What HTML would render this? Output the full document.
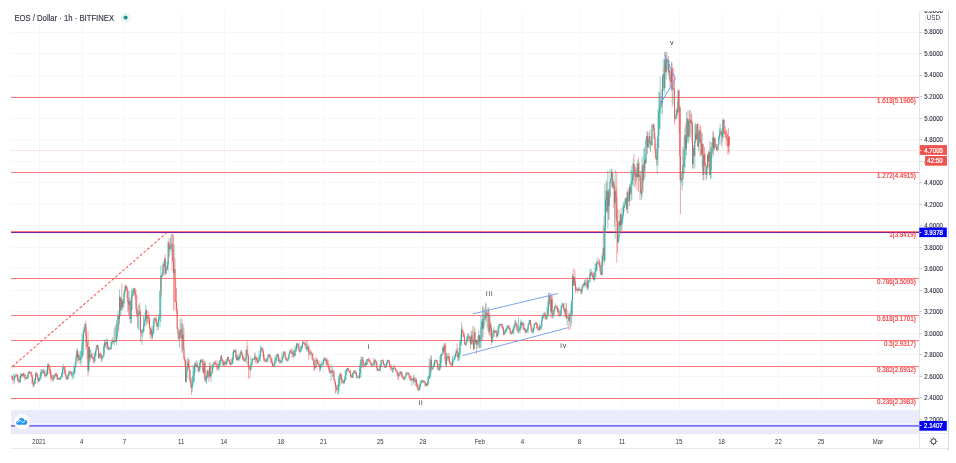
<!DOCTYPE html><html><head><meta charset="utf-8"><style>html,body{margin:0;padding:0;background:#fff;width:956px;height:463px;overflow:hidden}svg{display:block}text{font-family:"Liberation Sans",sans-serif}</style></head><body><svg width="956" height="463" viewBox="0 0 956 463"><path d="M39.5 11V436M82.5 11V436M124.5 11V436M181.5 11V436M224.5 11V436M281.5 11V436M323.5 11V436M380.5 11V436M423.5 11V436M480.5 11V436M522.5 11V436M579.5 11V436M622.5 11V436M679.5 11V436M722.5 11V436M778.5 11V436M821.5 11V436M878.5 11V436M11 32.5H919M11 53.5H919M11 75.5H919M11 96.5H919M11 118.5H919M11 139.5H919M11 161.5H919M11 182.5H919M11 204.5H919M11 225.5H919M11 247.5H919M11 268.5H919M11 290.5H919M11 311.5H919M11 333.5H919M11 354.5H919M11 376.5H919M11 397.5H919M11 419.5H919" stroke="#f6f7f9" stroke-width="1" fill="none"/><rect x="11" y="410.5" width="908" height="23" fill="#ebebfc"/><path d="M11 410.5H919" stroke="#dcf3f8" stroke-width="1"/><path d="M11 97.5H919M11 172.5H919M11 231.5H919M11 278.5H919M11 315.5H919M11 340.5H919M11 366.5H919M11 398.5H919" stroke="#f77" stroke-width="1" fill="none"/><path d="M11 232.5H919" stroke="#7a1fa8" stroke-width="1"/><path d="M11 423.6H919M11 428H919" stroke="#fff" stroke-opacity="0.55" stroke-width="1"/><path d="M11 425.8H919" stroke="#7b72f2" stroke-width="1.7"/><path d="M11 150.5H919" stroke="#f8c4c4" stroke-width="1" stroke-dasharray="1.2 1.6"/><path d="M12.3 366.6L166.6 232.8" stroke="#f55" stroke-width="1.05" stroke-dasharray="2.8 1.9"/><g fill="none"><path d="M11.5 374.9V376.8" stroke="#ef5350" stroke-width="0.5"/><path d="M11.5 376.4V377.2" stroke="#ef5350" stroke-width="0.9"/><path d="M12.2 376.0V379.7" stroke="#ef5350" stroke-width="0.5"/><path d="M12.2 376.4V379.2" stroke="#ef5350" stroke-width="0.9"/><path d="M13.0 375.2V384.6" stroke="#ef5350" stroke-width="0.5"/><path d="M13.0 379.2V380.1" stroke="#ef5350" stroke-width="0.9"/><path d="M13.8 372.8V380.4" stroke="#26a69a" stroke-width="0.5"/><path d="M13.8 379.5V380.3" stroke="#26a69a" stroke-width="0.9"/><path d="M14.5 375.6V383.4" stroke="#26a69a" stroke-width="0.5"/><path d="M14.5 376.8V379.5" stroke="#26a69a" stroke-width="0.9"/><path d="M15.2 374.3V377.7" stroke="#26a69a" stroke-width="0.5"/><path d="M15.2 376.1V376.9" stroke="#26a69a" stroke-width="0.9"/><path d="M16.0 373.3V377.2" stroke="#26a69a" stroke-width="0.5"/><path d="M16.0 375.1V376.1" stroke="#26a69a" stroke-width="0.9"/><path d="M16.8 373.9V376.5" stroke="#ef5350" stroke-width="0.5"/><path d="M16.8 375.1V375.9" stroke="#ef5350" stroke-width="0.9"/><path d="M17.5 374.3V381.4" stroke="#ef5350" stroke-width="0.5"/><path d="M17.5 375.8V378.6" stroke="#ef5350" stroke-width="0.9"/><path d="M18.2 374.8V381.4" stroke="#ef5350" stroke-width="0.5"/><path d="M18.2 378.6V381.0" stroke="#ef5350" stroke-width="0.9"/><path d="M19.0 380.7V384.3" stroke="#ef5350" stroke-width="0.5"/><path d="M19.0 381.0V382.0" stroke="#ef5350" stroke-width="0.9"/><path d="M19.8 376.1V382.9" stroke="#26a69a" stroke-width="0.5"/><path d="M19.8 379.2V382.0" stroke="#26a69a" stroke-width="0.9"/><path d="M20.5 373.3V382.3" stroke="#26a69a" stroke-width="0.5"/><path d="M20.5 376.0V379.2" stroke="#26a69a" stroke-width="0.9"/><path d="M21.2 373.9V377.9" stroke="#26a69a" stroke-width="0.5"/><path d="M21.2 374.2V376.0" stroke="#26a69a" stroke-width="0.9"/><path d="M22.0 373.3V377.7" stroke="#ef5350" stroke-width="0.5"/><path d="M22.0 374.2V375.9" stroke="#ef5350" stroke-width="0.9"/><path d="M22.8 373.2V376.3" stroke="#26a69a" stroke-width="0.5"/><path d="M22.8 373.7V375.9" stroke="#26a69a" stroke-width="0.9"/><path d="M23.5 372.7V377.2" stroke="#ef5350" stroke-width="0.5"/><path d="M23.5 373.7V374.5" stroke="#ef5350" stroke-width="0.9"/><path d="M24.2 373.0V377.5" stroke="#ef5350" stroke-width="0.5"/><path d="M24.2 374.5V375.3" stroke="#ef5350" stroke-width="0.9"/><path d="M25.0 373.9V380.9" stroke="#ef5350" stroke-width="0.5"/><path d="M25.0 374.8V378.3" stroke="#ef5350" stroke-width="0.9"/><path d="M25.8 377.7V378.9" stroke="#26a69a" stroke-width="0.5"/><path d="M25.8 378.3V379.1" stroke="#26a69a" stroke-width="0.9"/><path d="M26.5 377.0V379.2" stroke="#26a69a" stroke-width="0.5"/><path d="M26.5 377.3V378.3" stroke="#26a69a" stroke-width="0.9"/><path d="M27.2 375.0V379.1" stroke="#ef5350" stroke-width="0.5"/><path d="M27.2 377.3V378.1" stroke="#ef5350" stroke-width="0.9"/><path d="M28.0 372.2V379.8" stroke="#26a69a" stroke-width="0.5"/><path d="M28.0 374.1V377.6" stroke="#26a69a" stroke-width="0.9"/><path d="M28.8 371.2V374.5" stroke="#26a69a" stroke-width="0.5"/><path d="M28.8 371.6V374.1" stroke="#26a69a" stroke-width="0.9"/><path d="M29.5 371.2V373.2" stroke="#ef5350" stroke-width="0.5"/><path d="M29.5 371.6V372.4" stroke="#ef5350" stroke-width="0.9"/><path d="M30.2 371.9V373.8" stroke="#ef5350" stroke-width="0.5"/><path d="M30.2 372.3V373.1" stroke="#ef5350" stroke-width="0.9"/><path d="M31.0 371.7V376.3" stroke="#ef5350" stroke-width="0.5"/><path d="M31.0 372.8V374.8" stroke="#ef5350" stroke-width="0.9"/><path d="M31.8 371.2V384.5" stroke="#ef5350" stroke-width="0.5"/><path d="M31.8 374.8V376.9" stroke="#ef5350" stroke-width="0.9"/><path d="M32.5 375.2V383.3" stroke="#ef5350" stroke-width="0.5"/><path d="M32.5 376.9V382.1" stroke="#ef5350" stroke-width="0.9"/><path d="M33.2 381.8V387.5" stroke="#ef5350" stroke-width="0.5"/><path d="M33.2 382.1V385.2" stroke="#ef5350" stroke-width="0.9"/><path d="M34.0 378.9V387.3" stroke="#26a69a" stroke-width="0.5"/><path d="M34.0 383.5V385.2" stroke="#26a69a" stroke-width="0.9"/><path d="M34.8 378.0V384.2" stroke="#26a69a" stroke-width="0.5"/><path d="M34.8 379.7V383.5" stroke="#26a69a" stroke-width="0.9"/><path d="M35.5 372.3V383.7" stroke="#26a69a" stroke-width="0.5"/><path d="M35.5 373.2V379.7" stroke="#26a69a" stroke-width="0.9"/><path d="M36.2 371.4V377.3" stroke="#ef5350" stroke-width="0.5"/><path d="M36.2 373.2V374.0" stroke="#ef5350" stroke-width="0.9"/><path d="M37.0 373.3V376.9" stroke="#ef5350" stroke-width="0.5"/><path d="M37.0 373.6V376.6" stroke="#ef5350" stroke-width="0.9"/><path d="M37.8 373.7V383.0" stroke="#ef5350" stroke-width="0.5"/><path d="M37.8 376.6V379.6" stroke="#ef5350" stroke-width="0.9"/><path d="M38.5 378.3V381.8" stroke="#ef5350" stroke-width="0.5"/><path d="M38.5 379.6V381.0" stroke="#ef5350" stroke-width="0.9"/><path d="M39.2 377.2V382.0" stroke="#26a69a" stroke-width="0.5"/><path d="M39.2 377.9V381.0" stroke="#26a69a" stroke-width="0.9"/><path d="M40.0 374.6V378.3" stroke="#26a69a" stroke-width="0.5"/><path d="M40.0 377.9V378.7" stroke="#26a69a" stroke-width="0.9"/><path d="M40.8 369.6V380.6" stroke="#26a69a" stroke-width="0.5"/><path d="M40.8 372.5V377.9" stroke="#26a69a" stroke-width="0.9"/><path d="M41.5 369.5V375.9" stroke="#26a69a" stroke-width="0.5"/><path d="M41.5 372.1V372.9" stroke="#26a69a" stroke-width="0.9"/><path d="M42.2 369.2V374.2" stroke="#26a69a" stroke-width="0.5"/><path d="M42.2 372.1V372.9" stroke="#26a69a" stroke-width="0.9"/><path d="M43.0 368.5V372.6" stroke="#26a69a" stroke-width="0.5"/><path d="M43.0 370.9V372.1" stroke="#26a69a" stroke-width="0.9"/><path d="M43.8 368.8V374.0" stroke="#ef5350" stroke-width="0.5"/><path d="M43.8 370.9V373.0" stroke="#ef5350" stroke-width="0.9"/><path d="M44.5 370.7V376.4" stroke="#ef5350" stroke-width="0.5"/><path d="M44.5 373.0V374.6" stroke="#ef5350" stroke-width="0.9"/><path d="M45.2 370.5V377.9" stroke="#ef5350" stroke-width="0.5"/><path d="M45.2 374.6V375.9" stroke="#ef5350" stroke-width="0.9"/><path d="M46.0 372.3V377.0" stroke="#26a69a" stroke-width="0.5"/><path d="M46.0 375.0V375.9" stroke="#26a69a" stroke-width="0.9"/><path d="M46.8 369.2V376.4" stroke="#26a69a" stroke-width="0.5"/><path d="M46.8 373.9V375.0" stroke="#26a69a" stroke-width="0.9"/><path d="M47.5 363.9V375.2" stroke="#26a69a" stroke-width="0.5"/><path d="M47.5 366.6V373.9" stroke="#26a69a" stroke-width="0.9"/><path d="M48.2 363.0V368.3" stroke="#26a69a" stroke-width="0.5"/><path d="M48.2 364.8V366.6" stroke="#26a69a" stroke-width="0.9"/><path d="M49.0 363.9V374.1" stroke="#ef5350" stroke-width="0.5"/><path d="M49.0 364.8V369.7" stroke="#ef5350" stroke-width="0.9"/><path d="M49.8 366.7V373.4" stroke="#ef5350" stroke-width="0.5"/><path d="M49.8 369.7V370.5" stroke="#ef5350" stroke-width="0.9"/><path d="M50.5 368.9V379.3" stroke="#ef5350" stroke-width="0.5"/><path d="M50.5 370.1V374.9" stroke="#ef5350" stroke-width="0.9"/><path d="M51.2 371.3V381.6" stroke="#ef5350" stroke-width="0.5"/><path d="M51.2 374.9V377.9" stroke="#ef5350" stroke-width="0.9"/><path d="M52.0 375.1V379.7" stroke="#ef5350" stroke-width="0.5"/><path d="M52.0 377.9V378.7" stroke="#ef5350" stroke-width="0.9"/><path d="M52.8 374.5V381.5" stroke="#ef5350" stroke-width="0.5"/><path d="M52.8 378.1V379.1" stroke="#ef5350" stroke-width="0.9"/><path d="M53.5 375.5V381.6" stroke="#26a69a" stroke-width="0.5"/><path d="M53.5 378.4V379.2" stroke="#26a69a" stroke-width="0.9"/><path d="M54.2 374.4V378.8" stroke="#26a69a" stroke-width="0.5"/><path d="M54.2 375.5V378.4" stroke="#26a69a" stroke-width="0.9"/><path d="M55.0 373.1V376.0" stroke="#ef5350" stroke-width="0.5"/><path d="M55.0 375.5V376.3" stroke="#ef5350" stroke-width="0.9"/><path d="M55.8 373.3V377.6" stroke="#26a69a" stroke-width="0.5"/><path d="M55.8 373.7V375.5" stroke="#26a69a" stroke-width="0.9"/><path d="M56.5 372.8V377.0" stroke="#ef5350" stroke-width="0.5"/><path d="M56.5 373.7V374.8" stroke="#ef5350" stroke-width="0.9"/><path d="M57.2 374.0V380.0" stroke="#ef5350" stroke-width="0.5"/><path d="M57.2 374.8V379.1" stroke="#ef5350" stroke-width="0.9"/><path d="M58.0 378.2V379.8" stroke="#26a69a" stroke-width="0.5"/><path d="M58.0 378.5V379.3" stroke="#26a69a" stroke-width="0.9"/><path d="M58.8 377.1V379.8" stroke="#ef5350" stroke-width="0.5"/><path d="M58.8 378.5V379.5" stroke="#ef5350" stroke-width="0.9"/><path d="M59.5 378.8V380.0" stroke="#26a69a" stroke-width="0.5"/><path d="M59.5 379.3V380.1" stroke="#26a69a" stroke-width="0.9"/><path d="M60.2 376.6V379.8" stroke="#26a69a" stroke-width="0.5"/><path d="M60.2 377.3V379.3" stroke="#26a69a" stroke-width="0.9"/><path d="M61.0 376.6V379.6" stroke="#26a69a" stroke-width="0.5"/><path d="M61.0 377.2V378.0" stroke="#26a69a" stroke-width="0.9"/><path d="M61.8 372.3V377.5" stroke="#26a69a" stroke-width="0.5"/><path d="M61.8 372.8V377.2" stroke="#26a69a" stroke-width="0.9"/><path d="M62.5 366.5V377.4" stroke="#26a69a" stroke-width="0.5"/><path d="M62.5 369.9V372.8" stroke="#26a69a" stroke-width="0.9"/><path d="M63.2 364.0V374.2" stroke="#26a69a" stroke-width="0.5"/><path d="M63.2 367.3V369.9" stroke="#26a69a" stroke-width="0.9"/><path d="M64.0 366.6V367.8" stroke="#ef5350" stroke-width="0.5"/><path d="M64.0 367.3V368.1" stroke="#ef5350" stroke-width="0.9"/><path d="M64.8 366.9V374.3" stroke="#ef5350" stroke-width="0.5"/><path d="M64.8 367.4V373.7" stroke="#ef5350" stroke-width="0.9"/><path d="M65.5 369.4V376.7" stroke="#ef5350" stroke-width="0.5"/><path d="M65.5 373.7V375.4" stroke="#ef5350" stroke-width="0.9"/><path d="M66.2 374.2V379.2" stroke="#ef5350" stroke-width="0.5"/><path d="M66.2 375.4V378.8" stroke="#ef5350" stroke-width="0.9"/><path d="M67.0 378.3V379.7" stroke="#ef5350" stroke-width="0.5"/><path d="M67.0 378.8V379.6" stroke="#ef5350" stroke-width="0.9"/><path d="M67.8 374.1V379.7" stroke="#26a69a" stroke-width="0.5"/><path d="M67.8 376.1V379.2" stroke="#26a69a" stroke-width="0.9"/><path d="M68.5 372.7V378.8" stroke="#26a69a" stroke-width="0.5"/><path d="M68.5 374.4V376.1" stroke="#26a69a" stroke-width="0.9"/><path d="M69.2 369.8V376.0" stroke="#26a69a" stroke-width="0.5"/><path d="M69.2 371.5V374.4" stroke="#26a69a" stroke-width="0.9"/><path d="M70.0 371.2V373.8" stroke="#ef5350" stroke-width="0.5"/><path d="M70.0 371.5V372.3" stroke="#ef5350" stroke-width="0.9"/><path d="M70.8 371.4V374.8" stroke="#ef5350" stroke-width="0.5"/><path d="M70.8 371.7V372.7" stroke="#ef5350" stroke-width="0.9"/><path d="M71.5 371.5V376.3" stroke="#ef5350" stroke-width="0.5"/><path d="M71.5 372.7V374.3" stroke="#ef5350" stroke-width="0.9"/><path d="M72.2 372.8V379.6" stroke="#26a69a" stroke-width="0.5"/><path d="M72.2 374.3V375.1" stroke="#26a69a" stroke-width="0.9"/><path d="M73.0 370.9V377.2" stroke="#26a69a" stroke-width="0.5"/><path d="M73.0 373.3V374.3" stroke="#26a69a" stroke-width="0.9"/><path d="M73.8 366.1V378.7" stroke="#26a69a" stroke-width="0.5"/><path d="M73.8 371.1V373.3" stroke="#26a69a" stroke-width="0.9"/><path d="M74.5 367.2V375.0" stroke="#26a69a" stroke-width="0.5"/><path d="M74.5 367.8V371.1" stroke="#26a69a" stroke-width="0.9"/><path d="M75.2 362.5V373.0" stroke="#26a69a" stroke-width="0.5"/><path d="M75.2 364.0V367.8" stroke="#26a69a" stroke-width="0.9"/><path d="M76.0 354.9V365.7" stroke="#26a69a" stroke-width="0.5"/><path d="M76.0 357.1V364.0" stroke="#26a69a" stroke-width="0.9"/><path d="M76.8 348.7V359.4" stroke="#26a69a" stroke-width="0.5"/><path d="M76.8 351.2V357.1" stroke="#26a69a" stroke-width="0.9"/><path d="M77.5 348.7V361.7" stroke="#ef5350" stroke-width="0.5"/><path d="M77.5 351.2V357.2" stroke="#ef5350" stroke-width="0.9"/><path d="M78.2 353.1V360.5" stroke="#26a69a" stroke-width="0.5"/><path d="M78.2 354.8V357.2" stroke="#26a69a" stroke-width="0.9"/><path d="M79.0 351.1V363.7" stroke="#ef5350" stroke-width="0.5"/><path d="M79.0 354.8V359.9" stroke="#ef5350" stroke-width="0.9"/><path d="M79.8 356.3V360.6" stroke="#26a69a" stroke-width="0.5"/><path d="M79.8 358.7V359.9" stroke="#26a69a" stroke-width="0.9"/><path d="M80.5 351.0V363.5" stroke="#26a69a" stroke-width="0.5"/><path d="M80.5 358.7V359.5" stroke="#26a69a" stroke-width="0.9"/><path d="M81.2 350.6V365.8" stroke="#26a69a" stroke-width="0.5"/><path d="M81.2 357.1V358.7" stroke="#26a69a" stroke-width="0.9"/><path d="M82.0 332.0V359.3" stroke="#26a69a" stroke-width="0.5"/><path d="M82.0 344.8V357.1" stroke="#26a69a" stroke-width="0.9"/><path d="M82.8 334.8V356.5" stroke="#26a69a" stroke-width="0.5"/><path d="M82.8 341.8V344.8" stroke="#26a69a" stroke-width="0.9"/><path d="M83.5 329.7V354.8" stroke="#26a69a" stroke-width="0.5"/><path d="M83.5 332.5V341.8" stroke="#26a69a" stroke-width="0.9"/><path d="M84.2 327.0V333.1" stroke="#26a69a" stroke-width="0.5"/><path d="M84.2 327.3V332.5" stroke="#26a69a" stroke-width="0.9"/><path d="M85.0 323.1V329.7" stroke="#26a69a" stroke-width="0.5"/><path d="M85.0 324.3V327.3" stroke="#26a69a" stroke-width="0.9"/><path d="M85.8 320.5V349.6" stroke="#ef5350" stroke-width="0.5"/><path d="M85.8 324.3V336.1" stroke="#ef5350" stroke-width="0.9"/><path d="M86.5 327.4V346.9" stroke="#ef5350" stroke-width="0.5"/><path d="M86.5 336.1V342.7" stroke="#ef5350" stroke-width="0.9"/><path d="M87.2 340.7V359.2" stroke="#ef5350" stroke-width="0.5"/><path d="M87.2 342.7V347.0" stroke="#ef5350" stroke-width="0.9"/><path d="M88.0 331.1V376.5" stroke="#ef5350" stroke-width="0.5"/><path d="M88.0 347.0V370.6" stroke="#ef5350" stroke-width="0.9"/><path d="M88.8 340.9V372.9" stroke="#26a69a" stroke-width="0.5"/><path d="M88.8 347.2V370.6" stroke="#26a69a" stroke-width="0.9"/><path d="M89.5 346.9V361.3" stroke="#ef5350" stroke-width="0.5"/><path d="M89.5 347.2V357.8" stroke="#ef5350" stroke-width="0.9"/><path d="M90.2 349.6V361.7" stroke="#26a69a" stroke-width="0.5"/><path d="M90.2 355.2V357.8" stroke="#26a69a" stroke-width="0.9"/><path d="M91.0 349.2V358.1" stroke="#26a69a" stroke-width="0.5"/><path d="M91.0 354.1V355.2" stroke="#26a69a" stroke-width="0.9"/><path d="M91.8 353.0V357.9" stroke="#ef5350" stroke-width="0.5"/><path d="M91.8 354.1V357.6" stroke="#ef5350" stroke-width="0.9"/><path d="M92.5 356.6V359.1" stroke="#ef5350" stroke-width="0.5"/><path d="M92.5 357.6V358.4" stroke="#ef5350" stroke-width="0.9"/><path d="M93.2 356.6V363.4" stroke="#ef5350" stroke-width="0.5"/><path d="M93.2 358.1V358.9" stroke="#ef5350" stroke-width="0.9"/><path d="M94.0 353.1V363.3" stroke="#ef5350" stroke-width="0.5"/><path d="M94.0 358.4V361.2" stroke="#ef5350" stroke-width="0.9"/><path d="M94.8 352.2V363.3" stroke="#26a69a" stroke-width="0.5"/><path d="M94.8 354.3V361.2" stroke="#26a69a" stroke-width="0.9"/><path d="M95.5 350.7V356.8" stroke="#26a69a" stroke-width="0.5"/><path d="M95.5 351.3V354.3" stroke="#26a69a" stroke-width="0.9"/><path d="M96.2 345.1V355.9" stroke="#26a69a" stroke-width="0.5"/><path d="M96.2 348.2V351.3" stroke="#26a69a" stroke-width="0.9"/><path d="M97.0 344.7V348.9" stroke="#26a69a" stroke-width="0.5"/><path d="M97.0 345.0V348.2" stroke="#26a69a" stroke-width="0.9"/><path d="M97.8 344.7V350.4" stroke="#ef5350" stroke-width="0.5"/><path d="M97.8 345.0V347.7" stroke="#ef5350" stroke-width="0.9"/><path d="M98.5 347.1V358.7" stroke="#ef5350" stroke-width="0.5"/><path d="M98.5 347.7V357.9" stroke="#ef5350" stroke-width="0.9"/><path d="M99.2 353.0V358.6" stroke="#26a69a" stroke-width="0.5"/><path d="M99.2 353.4V357.9" stroke="#26a69a" stroke-width="0.9"/><path d="M100.0 351.5V356.6" stroke="#ef5350" stroke-width="0.5"/><path d="M100.0 353.4V354.7" stroke="#ef5350" stroke-width="0.9"/><path d="M100.8 352.8V358.1" stroke="#ef5350" stroke-width="0.5"/><path d="M100.8 354.7V357.7" stroke="#ef5350" stroke-width="0.9"/><path d="M101.5 353.6V362.3" stroke="#ef5350" stroke-width="0.5"/><path d="M101.5 357.7V359.0" stroke="#ef5350" stroke-width="0.9"/><path d="M102.2 355.0V360.8" stroke="#26a69a" stroke-width="0.5"/><path d="M102.2 356.2V359.0" stroke="#26a69a" stroke-width="0.9"/><path d="M103.0 355.4V356.6" stroke="#26a69a" stroke-width="0.5"/><path d="M103.0 355.7V356.5" stroke="#26a69a" stroke-width="0.9"/><path d="M103.8 344.1V358.0" stroke="#26a69a" stroke-width="0.5"/><path d="M103.8 346.6V355.7" stroke="#26a69a" stroke-width="0.9"/><path d="M104.5 339.7V353.6" stroke="#26a69a" stroke-width="0.5"/><path d="M104.5 342.7V346.6" stroke="#26a69a" stroke-width="0.9"/><path d="M105.2 341.9V347.7" stroke="#ef5350" stroke-width="0.5"/><path d="M105.2 342.7V344.6" stroke="#ef5350" stroke-width="0.9"/><path d="M106.0 338.9V347.0" stroke="#26a69a" stroke-width="0.5"/><path d="M106.0 343.8V344.6" stroke="#26a69a" stroke-width="0.9"/><path d="M106.8 338.4V349.1" stroke="#26a69a" stroke-width="0.5"/><path d="M106.8 342.1V343.8" stroke="#26a69a" stroke-width="0.9"/><path d="M107.5 339.7V349.3" stroke="#ef5350" stroke-width="0.5"/><path d="M107.5 342.1V346.6" stroke="#ef5350" stroke-width="0.9"/><path d="M108.2 344.8V350.4" stroke="#ef5350" stroke-width="0.5"/><path d="M108.2 346.6V349.3" stroke="#ef5350" stroke-width="0.9"/><path d="M109.0 347.4V350.3" stroke="#26a69a" stroke-width="0.5"/><path d="M109.0 348.8V349.6" stroke="#26a69a" stroke-width="0.9"/><path d="M109.8 346.7V349.4" stroke="#26a69a" stroke-width="0.5"/><path d="M109.8 348.0V348.8" stroke="#26a69a" stroke-width="0.9"/><path d="M110.5 347.7V349.5" stroke="#ef5350" stroke-width="0.5"/><path d="M110.5 348.0V348.8" stroke="#ef5350" stroke-width="0.9"/><path d="M111.2 341.9V350.1" stroke="#26a69a" stroke-width="0.5"/><path d="M111.2 342.6V348.3" stroke="#26a69a" stroke-width="0.9"/><path d="M112.0 339.5V345.3" stroke="#26a69a" stroke-width="0.5"/><path d="M112.0 341.0V342.6" stroke="#26a69a" stroke-width="0.9"/><path d="M112.8 336.7V344.0" stroke="#ef5350" stroke-width="0.5"/><path d="M112.8 341.0V341.8" stroke="#ef5350" stroke-width="0.9"/><path d="M113.5 339.9V342.6" stroke="#26a69a" stroke-width="0.5"/><path d="M113.5 341.1V341.9" stroke="#26a69a" stroke-width="0.9"/><path d="M114.2 328.7V345.8" stroke="#26a69a" stroke-width="0.5"/><path d="M114.2 340.7V341.5" stroke="#26a69a" stroke-width="0.9"/><path d="M115.0 326.4V342.6" stroke="#ef5350" stroke-width="0.5"/><path d="M115.0 340.7V341.5" stroke="#ef5350" stroke-width="0.9"/><path d="M115.8 324.2V342.7" stroke="#26a69a" stroke-width="0.5"/><path d="M115.8 340.9V341.7" stroke="#26a69a" stroke-width="0.9"/><path d="M116.5 319.5V345.3" stroke="#26a69a" stroke-width="0.5"/><path d="M116.5 336.8V340.9" stroke="#26a69a" stroke-width="0.9"/><path d="M117.2 323.2V338.8" stroke="#26a69a" stroke-width="0.5"/><path d="M117.2 327.7V336.8" stroke="#26a69a" stroke-width="0.9"/><path d="M118.0 310.8V329.7" stroke="#26a69a" stroke-width="0.5"/><path d="M118.0 315.7V327.7" stroke="#26a69a" stroke-width="0.9"/><path d="M118.8 314.3V332.3" stroke="#ef5350" stroke-width="0.5"/><path d="M118.8 315.7V319.2" stroke="#ef5350" stroke-width="0.9"/><path d="M119.5 289.4V324.6" stroke="#26a69a" stroke-width="0.5"/><path d="M119.5 297.0V319.2" stroke="#26a69a" stroke-width="0.9"/><path d="M120.2 296.6V315.5" stroke="#ef5350" stroke-width="0.5"/><path d="M120.2 297.0V310.6" stroke="#ef5350" stroke-width="0.9"/><path d="M121.0 296.9V316.3" stroke="#26a69a" stroke-width="0.5"/><path d="M121.0 298.9V310.6" stroke="#26a69a" stroke-width="0.9"/><path d="M121.8 283.5V308.7" stroke="#ef5350" stroke-width="0.5"/><path d="M121.8 298.9V307.2" stroke="#ef5350" stroke-width="0.9"/><path d="M122.5 299.2V310.3" stroke="#26a69a" stroke-width="0.5"/><path d="M122.5 302.1V307.2" stroke="#26a69a" stroke-width="0.9"/><path d="M123.2 299.7V308.4" stroke="#ef5350" stroke-width="0.5"/><path d="M123.2 302.1V303.4" stroke="#ef5350" stroke-width="0.9"/><path d="M124.0 290.6V306.6" stroke="#26a69a" stroke-width="0.5"/><path d="M124.0 293.3V303.4" stroke="#26a69a" stroke-width="0.9"/><path d="M124.8 285.9V297.3" stroke="#26a69a" stroke-width="0.5"/><path d="M124.8 290.3V293.3" stroke="#26a69a" stroke-width="0.9"/><path d="M125.5 284.4V291.2" stroke="#26a69a" stroke-width="0.5"/><path d="M125.5 286.0V290.3" stroke="#26a69a" stroke-width="0.9"/><path d="M126.2 285.6V290.2" stroke="#ef5350" stroke-width="0.5"/><path d="M126.2 286.0V288.1" stroke="#ef5350" stroke-width="0.9"/><path d="M127.0 285.7V298.3" stroke="#ef5350" stroke-width="0.5"/><path d="M127.0 288.1V290.8" stroke="#ef5350" stroke-width="0.9"/><path d="M127.8 287.2V311.9" stroke="#ef5350" stroke-width="0.5"/><path d="M127.8 290.8V302.2" stroke="#ef5350" stroke-width="0.9"/><path d="M128.5 298.0V315.9" stroke="#ef5350" stroke-width="0.5"/><path d="M128.5 302.2V304.8" stroke="#ef5350" stroke-width="0.9"/><path d="M129.2 291.1V310.2" stroke="#26a69a" stroke-width="0.5"/><path d="M129.2 301.0V304.8" stroke="#26a69a" stroke-width="0.9"/><path d="M130.0 297.3V323.3" stroke="#ef5350" stroke-width="0.5"/><path d="M130.0 301.0V319.0" stroke="#ef5350" stroke-width="0.9"/><path d="M130.8 300.4V323.3" stroke="#26a69a" stroke-width="0.5"/><path d="M130.8 310.6V319.0" stroke="#26a69a" stroke-width="0.9"/><path d="M131.5 289.6V323.3" stroke="#26a69a" stroke-width="0.5"/><path d="M131.5 297.4V310.6" stroke="#26a69a" stroke-width="0.9"/><path d="M132.2 287.9V309.8" stroke="#26a69a" stroke-width="0.5"/><path d="M132.2 294.4V297.4" stroke="#26a69a" stroke-width="0.9"/><path d="M133.0 290.5V295.7" stroke="#26a69a" stroke-width="0.5"/><path d="M133.0 291.5V294.4" stroke="#26a69a" stroke-width="0.9"/><path d="M133.8 287.9V295.7" stroke="#26a69a" stroke-width="0.5"/><path d="M133.8 288.5V291.5" stroke="#26a69a" stroke-width="0.9"/><path d="M134.5 287.9V293.8" stroke="#ef5350" stroke-width="0.5"/><path d="M134.5 288.5V291.1" stroke="#ef5350" stroke-width="0.9"/><path d="M135.2 287.9V299.2" stroke="#ef5350" stroke-width="0.5"/><path d="M135.2 291.1V295.7" stroke="#ef5350" stroke-width="0.9"/><path d="M136.0 289.8V311.4" stroke="#ef5350" stroke-width="0.5"/><path d="M136.0 295.7V308.2" stroke="#ef5350" stroke-width="0.9"/><path d="M136.8 294.2V317.6" stroke="#ef5350" stroke-width="0.5"/><path d="M136.8 308.2V314.2" stroke="#ef5350" stroke-width="0.9"/><path d="M137.5 310.1V327.8" stroke="#ef5350" stroke-width="0.5"/><path d="M137.5 314.2V315.2" stroke="#ef5350" stroke-width="0.9"/><path d="M138.2 305.4V329.9" stroke="#26a69a" stroke-width="0.5"/><path d="M138.2 314.2V315.2" stroke="#26a69a" stroke-width="0.9"/><path d="M139.0 304.5V330.4" stroke="#26a69a" stroke-width="0.5"/><path d="M139.0 311.5V314.2" stroke="#26a69a" stroke-width="0.9"/><path d="M139.8 302.8V315.6" stroke="#ef5350" stroke-width="0.5"/><path d="M139.8 311.5V313.8" stroke="#ef5350" stroke-width="0.9"/><path d="M140.5 309.5V342.0" stroke="#ef5350" stroke-width="0.5"/><path d="M140.5 313.8V331.9" stroke="#ef5350" stroke-width="0.9"/><path d="M141.2 330.2V336.5" stroke="#ef5350" stroke-width="0.5"/><path d="M141.2 331.9V332.7" stroke="#ef5350" stroke-width="0.9"/><path d="M142.0 329.0V345.0" stroke="#26a69a" stroke-width="0.5"/><path d="M142.0 330.9V332.7" stroke="#26a69a" stroke-width="0.9"/><path d="M142.8 328.8V336.7" stroke="#26a69a" stroke-width="0.5"/><path d="M142.8 329.2V330.9" stroke="#26a69a" stroke-width="0.9"/><path d="M143.5 316.2V332.8" stroke="#26a69a" stroke-width="0.5"/><path d="M143.5 326.2V329.2" stroke="#26a69a" stroke-width="0.9"/><path d="M144.2 317.3V331.5" stroke="#26a69a" stroke-width="0.5"/><path d="M144.2 322.7V326.2" stroke="#26a69a" stroke-width="0.9"/><path d="M145.0 312.7V326.3" stroke="#26a69a" stroke-width="0.5"/><path d="M145.0 320.2V322.7" stroke="#26a69a" stroke-width="0.9"/><path d="M145.8 304.8V320.6" stroke="#26a69a" stroke-width="0.5"/><path d="M145.8 310.1V320.2" stroke="#26a69a" stroke-width="0.9"/><path d="M146.5 309.5V325.5" stroke="#ef5350" stroke-width="0.5"/><path d="M146.5 310.1V318.4" stroke="#ef5350" stroke-width="0.9"/><path d="M147.2 315.6V322.3" stroke="#26a69a" stroke-width="0.5"/><path d="M147.2 316.0V318.4" stroke="#26a69a" stroke-width="0.9"/><path d="M148.0 310.7V324.2" stroke="#ef5350" stroke-width="0.5"/><path d="M148.0 316.0V318.0" stroke="#ef5350" stroke-width="0.9"/><path d="M148.8 313.7V323.0" stroke="#ef5350" stroke-width="0.5"/><path d="M148.8 318.0V319.4" stroke="#ef5350" stroke-width="0.9"/><path d="M149.5 316.7V328.9" stroke="#ef5350" stroke-width="0.5"/><path d="M149.5 319.4V328.4" stroke="#ef5350" stroke-width="0.9"/><path d="M150.2 327.0V339.3" stroke="#ef5350" stroke-width="0.5"/><path d="M150.2 328.4V334.5" stroke="#ef5350" stroke-width="0.9"/><path d="M151.0 328.2V334.8" stroke="#26a69a" stroke-width="0.5"/><path d="M151.0 329.6V334.5" stroke="#26a69a" stroke-width="0.9"/><path d="M151.8 326.0V339.3" stroke="#ef5350" stroke-width="0.5"/><path d="M151.8 329.6V336.7" stroke="#ef5350" stroke-width="0.9"/><path d="M152.5 331.9V339.3" stroke="#26a69a" stroke-width="0.5"/><path d="M152.5 334.0V336.7" stroke="#26a69a" stroke-width="0.9"/><path d="M153.2 320.7V334.5" stroke="#26a69a" stroke-width="0.5"/><path d="M153.2 326.8V334.0" stroke="#26a69a" stroke-width="0.9"/><path d="M154.0 317.7V332.9" stroke="#26a69a" stroke-width="0.5"/><path d="M154.0 318.8V326.8" stroke="#26a69a" stroke-width="0.9"/><path d="M154.8 317.7V320.6" stroke="#26a69a" stroke-width="0.5"/><path d="M154.8 318.0V318.8" stroke="#26a69a" stroke-width="0.9"/><path d="M155.5 317.7V321.4" stroke="#ef5350" stroke-width="0.5"/><path d="M155.5 318.0V318.9" stroke="#ef5350" stroke-width="0.9"/><path d="M156.2 314.8V324.9" stroke="#ef5350" stroke-width="0.5"/><path d="M156.2 318.9V323.4" stroke="#ef5350" stroke-width="0.9"/><path d="M157.0 320.3V330.4" stroke="#ef5350" stroke-width="0.5"/><path d="M157.0 323.4V326.5" stroke="#ef5350" stroke-width="0.9"/><path d="M157.8 322.4V326.8" stroke="#26a69a" stroke-width="0.5"/><path d="M157.8 322.8V326.5" stroke="#26a69a" stroke-width="0.9"/><path d="M158.5 315.5V330.3" stroke="#26a69a" stroke-width="0.5"/><path d="M158.5 318.4V322.8" stroke="#26a69a" stroke-width="0.9"/><path d="M159.2 313.5V320.7" stroke="#26a69a" stroke-width="0.5"/><path d="M159.2 318.0V318.8" stroke="#26a69a" stroke-width="0.9"/><path d="M160.0 290.7V327.3" stroke="#26a69a" stroke-width="0.5"/><path d="M160.0 291.0V318.0" stroke="#26a69a" stroke-width="0.9"/><path d="M160.8 265.4V322.0" stroke="#26a69a" stroke-width="0.5"/><path d="M160.8 275.7V291.0" stroke="#26a69a" stroke-width="0.9"/><path d="M161.5 275.0V296.6" stroke="#ef5350" stroke-width="0.5"/><path d="M161.5 275.7V276.5" stroke="#ef5350" stroke-width="0.9"/><path d="M162.2 272.2V278.6" stroke="#26a69a" stroke-width="0.5"/><path d="M162.2 273.8V276.1" stroke="#26a69a" stroke-width="0.9"/><path d="M163.0 261.2V274.4" stroke="#26a69a" stroke-width="0.5"/><path d="M163.0 264.6V273.8" stroke="#26a69a" stroke-width="0.9"/><path d="M163.8 264.3V276.0" stroke="#ef5350" stroke-width="0.5"/><path d="M163.8 264.6V266.1" stroke="#ef5350" stroke-width="0.9"/><path d="M164.5 257.6V266.4" stroke="#26a69a" stroke-width="0.5"/><path d="M164.5 258.7V266.1" stroke="#26a69a" stroke-width="0.9"/><path d="M165.2 254.1V274.9" stroke="#ef5350" stroke-width="0.5"/><path d="M165.2 258.7V273.7" stroke="#ef5350" stroke-width="0.9"/><path d="M166.0 261.8V274.9" stroke="#26a69a" stroke-width="0.5"/><path d="M166.0 267.2V273.7" stroke="#26a69a" stroke-width="0.9"/><path d="M166.8 266.9V270.6" stroke="#ef5350" stroke-width="0.5"/><path d="M166.8 267.2V268.0" stroke="#ef5350" stroke-width="0.9"/><path d="M167.5 261.1V270.3" stroke="#26a69a" stroke-width="0.5"/><path d="M167.5 264.8V267.9" stroke="#26a69a" stroke-width="0.9"/><path d="M168.2 240.7V270.9" stroke="#26a69a" stroke-width="0.5"/><path d="M168.2 242.5V264.8" stroke="#26a69a" stroke-width="0.9"/><path d="M169.0 238.4V257.6" stroke="#ef5350" stroke-width="0.5"/><path d="M169.0 242.5V249.2" stroke="#ef5350" stroke-width="0.9"/><path d="M169.8 245.5V255.7" stroke="#26a69a" stroke-width="0.5"/><path d="M169.8 247.1V249.2" stroke="#26a69a" stroke-width="0.9"/><path d="M170.5 237.7V249.2" stroke="#26a69a" stroke-width="0.5"/><path d="M170.5 246.3V247.1" stroke="#26a69a" stroke-width="0.9"/><path d="M171.2 233.6V251.6" stroke="#26a69a" stroke-width="0.5"/><path d="M171.2 243.9V246.3" stroke="#26a69a" stroke-width="0.9"/><path d="M172.0 233.9V270.7" stroke="#ef5350" stroke-width="0.5"/><path d="M172.0 243.9V248.9" stroke="#ef5350" stroke-width="0.9"/><path d="M172.8 233.9V262.5" stroke="#ef5350" stroke-width="0.5"/><path d="M172.8 248.9V260.8" stroke="#ef5350" stroke-width="0.9"/><path d="M173.5 235.2V310.3" stroke="#ef5350" stroke-width="0.5"/><path d="M173.5 260.8V273.2" stroke="#ef5350" stroke-width="0.9"/><path d="M174.2 244.5V278.4" stroke="#26a69a" stroke-width="0.5"/><path d="M174.2 269.1V273.2" stroke="#26a69a" stroke-width="0.9"/><path d="M175.0 257.7V310.8" stroke="#ef5350" stroke-width="0.5"/><path d="M175.0 269.1V301.5" stroke="#ef5350" stroke-width="0.9"/><path d="M175.8 279.4V302.3" stroke="#ef5350" stroke-width="0.5"/><path d="M175.8 301.5V302.3" stroke="#ef5350" stroke-width="0.9"/><path d="M176.5 287.9V313.6" stroke="#ef5350" stroke-width="0.5"/><path d="M176.5 301.7V309.8" stroke="#ef5350" stroke-width="0.9"/><path d="M177.2 308.1V329.2" stroke="#ef5350" stroke-width="0.5"/><path d="M177.2 309.8V328.9" stroke="#ef5350" stroke-width="0.9"/><path d="M178.0 327.5V338.7" stroke="#ef5350" stroke-width="0.5"/><path d="M178.0 328.9V333.5" stroke="#ef5350" stroke-width="0.9"/><path d="M178.8 331.4V340.3" stroke="#ef5350" stroke-width="0.5"/><path d="M178.8 333.5V338.8" stroke="#ef5350" stroke-width="0.9"/><path d="M179.5 330.3V347.8" stroke="#26a69a" stroke-width="0.5"/><path d="M179.5 337.8V338.8" stroke="#26a69a" stroke-width="0.9"/><path d="M180.2 318.1V338.4" stroke="#26a69a" stroke-width="0.5"/><path d="M180.2 329.7V337.8" stroke="#26a69a" stroke-width="0.9"/><path d="M181.0 323.4V333.7" stroke="#26a69a" stroke-width="0.5"/><path d="M181.0 329.4V330.2" stroke="#26a69a" stroke-width="0.9"/><path d="M181.8 318.7V351.5" stroke="#ef5350" stroke-width="0.5"/><path d="M181.8 329.4V339.4" stroke="#ef5350" stroke-width="0.9"/><path d="M182.5 323.0V353.4" stroke="#26a69a" stroke-width="0.5"/><path d="M182.5 334.9V339.4" stroke="#26a69a" stroke-width="0.9"/><path d="M183.2 324.7V349.9" stroke="#ef5350" stroke-width="0.5"/><path d="M183.2 334.9V348.5" stroke="#ef5350" stroke-width="0.9"/><path d="M184.0 327.7V360.7" stroke="#ef5350" stroke-width="0.5"/><path d="M184.0 348.5V358.6" stroke="#ef5350" stroke-width="0.9"/><path d="M184.8 356.6V365.8" stroke="#ef5350" stroke-width="0.5"/><path d="M184.8 358.6V360.6" stroke="#ef5350" stroke-width="0.9"/><path d="M185.5 359.6V382.3" stroke="#ef5350" stroke-width="0.5"/><path d="M185.5 360.6V382.0" stroke="#ef5350" stroke-width="0.9"/><path d="M186.2 367.5V382.3" stroke="#26a69a" stroke-width="0.5"/><path d="M186.2 372.2V382.0" stroke="#26a69a" stroke-width="0.9"/><path d="M187.0 359.5V378.0" stroke="#26a69a" stroke-width="0.5"/><path d="M187.0 366.6V372.2" stroke="#26a69a" stroke-width="0.9"/><path d="M187.8 357.2V369.6" stroke="#26a69a" stroke-width="0.5"/><path d="M187.8 362.5V366.6" stroke="#26a69a" stroke-width="0.9"/><path d="M188.5 359.0V367.8" stroke="#ef5350" stroke-width="0.5"/><path d="M188.5 362.5V366.2" stroke="#ef5350" stroke-width="0.9"/><path d="M189.2 359.2V380.6" stroke="#ef5350" stroke-width="0.5"/><path d="M189.2 366.2V369.9" stroke="#ef5350" stroke-width="0.9"/><path d="M190.0 369.1V382.8" stroke="#ef5350" stroke-width="0.5"/><path d="M190.0 369.9V378.4" stroke="#ef5350" stroke-width="0.9"/><path d="M190.8 376.9V388.1" stroke="#ef5350" stroke-width="0.5"/><path d="M190.8 378.4V385.1" stroke="#ef5350" stroke-width="0.9"/><path d="M191.5 384.4V395.0" stroke="#ef5350" stroke-width="0.5"/><path d="M191.5 385.1V388.1" stroke="#ef5350" stroke-width="0.9"/><path d="M192.2 377.4V392.3" stroke="#26a69a" stroke-width="0.5"/><path d="M192.2 380.8V388.1" stroke="#26a69a" stroke-width="0.9"/><path d="M193.0 365.5V386.0" stroke="#26a69a" stroke-width="0.5"/><path d="M193.0 375.9V380.8" stroke="#26a69a" stroke-width="0.9"/><path d="M193.8 366.6V383.4" stroke="#26a69a" stroke-width="0.5"/><path d="M193.8 371.6V375.9" stroke="#26a69a" stroke-width="0.9"/><path d="M194.5 362.7V381.9" stroke="#26a69a" stroke-width="0.5"/><path d="M194.5 365.8V371.6" stroke="#26a69a" stroke-width="0.9"/><path d="M195.2 361.4V372.7" stroke="#26a69a" stroke-width="0.5"/><path d="M195.2 364.1V365.8" stroke="#26a69a" stroke-width="0.9"/><path d="M196.0 361.6V366.2" stroke="#ef5350" stroke-width="0.5"/><path d="M196.0 364.1V365.9" stroke="#ef5350" stroke-width="0.9"/><path d="M196.8 360.3V367.7" stroke="#26a69a" stroke-width="0.5"/><path d="M196.8 365.0V365.9" stroke="#26a69a" stroke-width="0.9"/><path d="M197.5 362.3V367.8" stroke="#ef5350" stroke-width="0.5"/><path d="M197.5 365.0V366.8" stroke="#ef5350" stroke-width="0.9"/><path d="M198.2 366.0V371.7" stroke="#ef5350" stroke-width="0.5"/><path d="M198.2 366.8V371.2" stroke="#ef5350" stroke-width="0.9"/><path d="M199.0 367.5V371.9" stroke="#26a69a" stroke-width="0.5"/><path d="M199.0 369.4V371.2" stroke="#26a69a" stroke-width="0.9"/><path d="M199.8 360.4V372.6" stroke="#26a69a" stroke-width="0.5"/><path d="M199.8 362.7V369.4" stroke="#26a69a" stroke-width="0.9"/><path d="M200.5 359.7V367.3" stroke="#26a69a" stroke-width="0.5"/><path d="M200.5 360.2V362.7" stroke="#26a69a" stroke-width="0.9"/><path d="M201.2 358.9V363.4" stroke="#ef5350" stroke-width="0.5"/><path d="M201.2 360.2V361.3" stroke="#ef5350" stroke-width="0.9"/><path d="M202.0 359.2V362.7" stroke="#26a69a" stroke-width="0.5"/><path d="M202.0 360.8V361.6" stroke="#26a69a" stroke-width="0.9"/><path d="M202.8 358.5V373.2" stroke="#ef5350" stroke-width="0.5"/><path d="M202.8 360.8V371.0" stroke="#ef5350" stroke-width="0.9"/><path d="M203.5 364.6V373.5" stroke="#ef5350" stroke-width="0.5"/><path d="M203.5 371.0V372.8" stroke="#ef5350" stroke-width="0.9"/><path d="M204.2 359.5V377.7" stroke="#26a69a" stroke-width="0.5"/><path d="M204.2 362.7V372.8" stroke="#26a69a" stroke-width="0.9"/><path d="M205.0 360.8V381.3" stroke="#ef5350" stroke-width="0.5"/><path d="M205.0 362.7V380.6" stroke="#ef5350" stroke-width="0.9"/><path d="M205.8 376.2V383.1" stroke="#26a69a" stroke-width="0.5"/><path d="M205.8 379.9V380.7" stroke="#26a69a" stroke-width="0.9"/><path d="M206.5 374.6V383.6" stroke="#26a69a" stroke-width="0.5"/><path d="M206.5 377.4V379.9" stroke="#26a69a" stroke-width="0.9"/><path d="M207.2 369.8V378.0" stroke="#26a69a" stroke-width="0.5"/><path d="M207.2 370.8V377.4" stroke="#26a69a" stroke-width="0.9"/><path d="M208.0 368.7V378.9" stroke="#ef5350" stroke-width="0.5"/><path d="M208.0 370.8V375.0" stroke="#ef5350" stroke-width="0.9"/><path d="M208.8 371.1V381.8" stroke="#ef5350" stroke-width="0.5"/><path d="M208.8 375.0V376.4" stroke="#ef5350" stroke-width="0.9"/><path d="M209.5 363.4V376.8" stroke="#26a69a" stroke-width="0.5"/><path d="M209.5 366.8V376.4" stroke="#26a69a" stroke-width="0.9"/><path d="M210.2 362.1V378.6" stroke="#ef5350" stroke-width="0.5"/><path d="M210.2 366.8V376.4" stroke="#ef5350" stroke-width="0.9"/><path d="M211.0 372.8V382.3" stroke="#26a69a" stroke-width="0.5"/><path d="M211.0 373.2V376.4" stroke="#26a69a" stroke-width="0.9"/><path d="M211.8 365.5V375.0" stroke="#26a69a" stroke-width="0.5"/><path d="M211.8 371.3V373.2" stroke="#26a69a" stroke-width="0.9"/><path d="M212.5 364.2V372.9" stroke="#26a69a" stroke-width="0.5"/><path d="M212.5 365.9V371.3" stroke="#26a69a" stroke-width="0.9"/><path d="M213.2 363.9V368.6" stroke="#26a69a" stroke-width="0.5"/><path d="M213.2 364.7V365.9" stroke="#26a69a" stroke-width="0.9"/><path d="M214.0 361.4V366.5" stroke="#26a69a" stroke-width="0.5"/><path d="M214.0 362.2V364.7" stroke="#26a69a" stroke-width="0.9"/><path d="M214.8 361.3V363.9" stroke="#ef5350" stroke-width="0.5"/><path d="M214.8 362.2V363.1" stroke="#ef5350" stroke-width="0.9"/><path d="M215.5 360.4V365.4" stroke="#ef5350" stroke-width="0.5"/><path d="M215.5 363.1V363.9" stroke="#ef5350" stroke-width="0.9"/><path d="M216.2 363.3V365.1" stroke="#ef5350" stroke-width="0.5"/><path d="M216.2 363.6V364.5" stroke="#ef5350" stroke-width="0.9"/><path d="M217.0 360.2V370.4" stroke="#ef5350" stroke-width="0.5"/><path d="M217.0 364.5V367.9" stroke="#ef5350" stroke-width="0.9"/><path d="M217.8 364.7V370.9" stroke="#ef5350" stroke-width="0.5"/><path d="M217.8 367.9V368.7" stroke="#ef5350" stroke-width="0.9"/><path d="M218.5 363.2V368.8" stroke="#26a69a" stroke-width="0.5"/><path d="M218.5 367.1V368.3" stroke="#26a69a" stroke-width="0.9"/><path d="M219.2 360.1V370.5" stroke="#26a69a" stroke-width="0.5"/><path d="M219.2 365.5V367.1" stroke="#26a69a" stroke-width="0.9"/><path d="M220.0 360.0V366.7" stroke="#26a69a" stroke-width="0.5"/><path d="M220.0 361.0V365.5" stroke="#26a69a" stroke-width="0.9"/><path d="M220.8 355.3V363.8" stroke="#26a69a" stroke-width="0.5"/><path d="M220.8 356.3V361.0" stroke="#26a69a" stroke-width="0.9"/><path d="M221.5 355.0V360.9" stroke="#ef5350" stroke-width="0.5"/><path d="M221.5 356.3V358.7" stroke="#ef5350" stroke-width="0.9"/><path d="M222.2 358.4V362.4" stroke="#ef5350" stroke-width="0.5"/><path d="M222.2 358.7V361.3" stroke="#ef5350" stroke-width="0.9"/><path d="M223.0 360.1V365.7" stroke="#ef5350" stroke-width="0.5"/><path d="M223.0 361.3V365.3" stroke="#ef5350" stroke-width="0.9"/><path d="M223.8 361.5V365.6" stroke="#26a69a" stroke-width="0.5"/><path d="M223.8 361.9V365.3" stroke="#26a69a" stroke-width="0.9"/><path d="M224.5 361.6V365.5" stroke="#ef5350" stroke-width="0.5"/><path d="M224.5 361.9V362.9" stroke="#ef5350" stroke-width="0.9"/><path d="M225.2 361.3V365.3" stroke="#26a69a" stroke-width="0.5"/><path d="M225.2 362.0V362.9" stroke="#26a69a" stroke-width="0.9"/><path d="M226.0 359.1V366.2" stroke="#ef5350" stroke-width="0.5"/><path d="M226.0 362.0V364.0" stroke="#ef5350" stroke-width="0.9"/><path d="M226.8 358.9V365.3" stroke="#26a69a" stroke-width="0.5"/><path d="M226.8 361.0V364.0" stroke="#26a69a" stroke-width="0.9"/><path d="M227.5 356.7V361.3" stroke="#26a69a" stroke-width="0.5"/><path d="M227.5 357.0V361.0" stroke="#26a69a" stroke-width="0.9"/><path d="M228.2 356.7V361.0" stroke="#ef5350" stroke-width="0.5"/><path d="M228.2 357.0V360.3" stroke="#ef5350" stroke-width="0.9"/><path d="M229.0 359.9V361.7" stroke="#ef5350" stroke-width="0.5"/><path d="M229.0 360.3V361.1" stroke="#ef5350" stroke-width="0.9"/><path d="M229.8 358.5V364.7" stroke="#ef5350" stroke-width="0.5"/><path d="M229.8 360.8V364.2" stroke="#ef5350" stroke-width="0.9"/><path d="M230.5 361.4V365.6" stroke="#26a69a" stroke-width="0.5"/><path d="M230.5 362.9V364.2" stroke="#26a69a" stroke-width="0.9"/><path d="M231.2 358.8V365.4" stroke="#ef5350" stroke-width="0.5"/><path d="M231.2 362.9V363.7" stroke="#ef5350" stroke-width="0.9"/><path d="M232.0 358.2V364.8" stroke="#26a69a" stroke-width="0.5"/><path d="M232.0 362.9V363.7" stroke="#26a69a" stroke-width="0.9"/><path d="M232.8 352.1V364.1" stroke="#26a69a" stroke-width="0.5"/><path d="M232.8 356.8V362.9" stroke="#26a69a" stroke-width="0.9"/><path d="M233.5 349.4V359.6" stroke="#26a69a" stroke-width="0.5"/><path d="M233.5 350.9V356.8" stroke="#26a69a" stroke-width="0.9"/><path d="M234.2 349.9V352.4" stroke="#ef5350" stroke-width="0.5"/><path d="M234.2 350.9V352.1" stroke="#ef5350" stroke-width="0.9"/><path d="M235.0 348.9V352.5" stroke="#26a69a" stroke-width="0.5"/><path d="M235.0 350.4V352.1" stroke="#26a69a" stroke-width="0.9"/><path d="M235.8 348.8V358.8" stroke="#ef5350" stroke-width="0.5"/><path d="M235.8 350.4V357.0" stroke="#ef5350" stroke-width="0.9"/><path d="M236.5 354.0V360.6" stroke="#ef5350" stroke-width="0.5"/><path d="M236.5 357.0V359.7" stroke="#ef5350" stroke-width="0.9"/><path d="M237.2 354.6V360.2" stroke="#26a69a" stroke-width="0.5"/><path d="M237.2 357.0V359.7" stroke="#26a69a" stroke-width="0.9"/><path d="M238.0 354.8V361.1" stroke="#ef5350" stroke-width="0.5"/><path d="M238.0 357.0V360.1" stroke="#ef5350" stroke-width="0.9"/><path d="M238.8 354.6V361.4" stroke="#26a69a" stroke-width="0.5"/><path d="M238.8 357.3V360.1" stroke="#26a69a" stroke-width="0.9"/><path d="M239.5 356.3V359.4" stroke="#26a69a" stroke-width="0.5"/><path d="M239.5 357.1V357.9" stroke="#26a69a" stroke-width="0.9"/><path d="M240.2 350.9V358.7" stroke="#26a69a" stroke-width="0.5"/><path d="M240.2 352.8V357.1" stroke="#26a69a" stroke-width="0.9"/><path d="M241.0 349.5V354.0" stroke="#26a69a" stroke-width="0.5"/><path d="M241.0 352.1V352.9" stroke="#26a69a" stroke-width="0.9"/><path d="M241.8 350.4V355.6" stroke="#ef5350" stroke-width="0.5"/><path d="M241.8 352.1V355.1" stroke="#ef5350" stroke-width="0.9"/><path d="M242.5 353.2V360.0" stroke="#ef5350" stroke-width="0.5"/><path d="M242.5 355.1V357.6" stroke="#ef5350" stroke-width="0.9"/><path d="M243.2 356.3V360.2" stroke="#ef5350" stroke-width="0.5"/><path d="M243.2 357.6V358.4" stroke="#ef5350" stroke-width="0.9"/><path d="M244.0 355.4V362.1" stroke="#ef5350" stroke-width="0.5"/><path d="M244.0 358.1V360.9" stroke="#ef5350" stroke-width="0.9"/><path d="M244.8 357.4V362.0" stroke="#26a69a" stroke-width="0.5"/><path d="M244.8 360.0V360.9" stroke="#26a69a" stroke-width="0.9"/><path d="M245.5 359.0V360.9" stroke="#26a69a" stroke-width="0.5"/><path d="M245.5 359.4V360.2" stroke="#26a69a" stroke-width="0.9"/><path d="M246.2 349.5V364.1" stroke="#26a69a" stroke-width="0.5"/><path d="M246.2 349.9V359.4" stroke="#26a69a" stroke-width="0.9"/><path d="M247.0 340.4V354.8" stroke="#ef5350" stroke-width="0.5"/><path d="M247.0 349.9V353.7" stroke="#ef5350" stroke-width="0.9"/><path d="M247.8 345.5V365.9" stroke="#ef5350" stroke-width="0.5"/><path d="M247.8 353.7V356.1" stroke="#ef5350" stroke-width="0.9"/><path d="M248.5 354.9V378.7" stroke="#ef5350" stroke-width="0.5"/><path d="M248.5 356.1V365.8" stroke="#ef5350" stroke-width="0.9"/><path d="M249.2 365.5V368.8" stroke="#ef5350" stroke-width="0.5"/><path d="M249.2 365.8V368.1" stroke="#ef5350" stroke-width="0.9"/><path d="M250.0 367.7V378.2" stroke="#ef5350" stroke-width="0.5"/><path d="M250.0 368.1V370.2" stroke="#ef5350" stroke-width="0.9"/><path d="M250.8 356.7V370.6" stroke="#26a69a" stroke-width="0.5"/><path d="M250.8 364.4V370.2" stroke="#26a69a" stroke-width="0.9"/><path d="M251.5 362.8V367.2" stroke="#26a69a" stroke-width="0.5"/><path d="M251.5 364.0V364.8" stroke="#26a69a" stroke-width="0.9"/><path d="M252.2 358.1V364.7" stroke="#26a69a" stroke-width="0.5"/><path d="M252.2 358.9V364.0" stroke="#26a69a" stroke-width="0.9"/><path d="M253.0 358.5V360.9" stroke="#ef5350" stroke-width="0.5"/><path d="M253.0 358.9V359.7" stroke="#ef5350" stroke-width="0.9"/><path d="M253.8 358.2V359.5" stroke="#26a69a" stroke-width="0.5"/><path d="M253.8 358.8V359.6" stroke="#26a69a" stroke-width="0.9"/><path d="M254.5 353.4V359.3" stroke="#26a69a" stroke-width="0.5"/><path d="M254.5 357.1V358.8" stroke="#26a69a" stroke-width="0.9"/><path d="M255.2 352.3V363.6" stroke="#ef5350" stroke-width="0.5"/><path d="M255.2 357.1V359.4" stroke="#ef5350" stroke-width="0.9"/><path d="M256.0 355.4V362.4" stroke="#26a69a" stroke-width="0.5"/><path d="M256.0 357.5V359.4" stroke="#26a69a" stroke-width="0.9"/><path d="M256.8 357.1V364.0" stroke="#ef5350" stroke-width="0.5"/><path d="M256.8 357.5V360.2" stroke="#ef5350" stroke-width="0.9"/><path d="M257.5 358.4V363.1" stroke="#ef5350" stroke-width="0.5"/><path d="M257.5 360.2V362.4" stroke="#ef5350" stroke-width="0.9"/><path d="M258.2 360.2V363.2" stroke="#26a69a" stroke-width="0.5"/><path d="M258.2 361.6V362.4" stroke="#26a69a" stroke-width="0.9"/><path d="M259.0 351.0V362.0" stroke="#26a69a" stroke-width="0.5"/><path d="M259.0 357.1V361.6" stroke="#26a69a" stroke-width="0.9"/><path d="M259.8 355.0V359.4" stroke="#26a69a" stroke-width="0.5"/><path d="M259.8 355.9V357.1" stroke="#26a69a" stroke-width="0.9"/><path d="M260.5 346.0V361.0" stroke="#26a69a" stroke-width="0.5"/><path d="M260.5 349.4V355.9" stroke="#26a69a" stroke-width="0.9"/><path d="M261.2 346.0V352.5" stroke="#26a69a" stroke-width="0.5"/><path d="M261.2 348.2V349.4" stroke="#26a69a" stroke-width="0.9"/><path d="M262.0 347.9V352.4" stroke="#ef5350" stroke-width="0.5"/><path d="M262.0 348.2V349.0" stroke="#ef5350" stroke-width="0.9"/><path d="M262.8 348.3V356.5" stroke="#ef5350" stroke-width="0.5"/><path d="M262.8 348.6V351.4" stroke="#ef5350" stroke-width="0.9"/><path d="M263.5 350.5V360.4" stroke="#ef5350" stroke-width="0.5"/><path d="M263.5 351.4V357.5" stroke="#ef5350" stroke-width="0.9"/><path d="M264.2 354.0V361.7" stroke="#ef5350" stroke-width="0.5"/><path d="M264.2 357.5V360.5" stroke="#ef5350" stroke-width="0.9"/><path d="M265.0 358.9V361.9" stroke="#ef5350" stroke-width="0.5"/><path d="M265.0 360.5V361.3" stroke="#ef5350" stroke-width="0.9"/><path d="M265.8 358.8V362.1" stroke="#ef5350" stroke-width="0.5"/><path d="M265.8 361.0V361.8" stroke="#ef5350" stroke-width="0.9"/><path d="M266.5 358.6V362.3" stroke="#26a69a" stroke-width="0.5"/><path d="M266.5 359.7V361.1" stroke="#26a69a" stroke-width="0.9"/><path d="M267.2 358.0V362.6" stroke="#26a69a" stroke-width="0.5"/><path d="M267.2 358.9V359.7" stroke="#26a69a" stroke-width="0.9"/><path d="M268.0 354.0V362.2" stroke="#26a69a" stroke-width="0.5"/><path d="M268.0 355.5V358.9" stroke="#26a69a" stroke-width="0.9"/><path d="M268.8 353.3V356.6" stroke="#26a69a" stroke-width="0.5"/><path d="M268.8 355.4V356.2" stroke="#26a69a" stroke-width="0.9"/><path d="M269.5 353.9V357.3" stroke="#ef5350" stroke-width="0.5"/><path d="M269.5 355.4V356.2" stroke="#ef5350" stroke-width="0.9"/><path d="M270.2 354.4V362.3" stroke="#ef5350" stroke-width="0.5"/><path d="M270.2 355.5V358.3" stroke="#ef5350" stroke-width="0.9"/><path d="M271.0 358.0V363.6" stroke="#ef5350" stroke-width="0.5"/><path d="M271.0 358.3V359.1" stroke="#ef5350" stroke-width="0.9"/><path d="M271.8 357.0V364.7" stroke="#ef5350" stroke-width="0.5"/><path d="M271.8 359.1V362.5" stroke="#ef5350" stroke-width="0.9"/><path d="M272.5 361.9V366.7" stroke="#ef5350" stroke-width="0.5"/><path d="M272.5 362.5V366.2" stroke="#ef5350" stroke-width="0.9"/><path d="M273.2 365.7V366.9" stroke="#ef5350" stroke-width="0.5"/><path d="M273.2 366.2V367.1" stroke="#ef5350" stroke-width="0.9"/><path d="M274.0 362.1V367.1" stroke="#26a69a" stroke-width="0.5"/><path d="M274.0 364.1V366.4" stroke="#26a69a" stroke-width="0.9"/><path d="M274.8 356.4V367.1" stroke="#26a69a" stroke-width="0.5"/><path d="M274.8 360.8V364.1" stroke="#26a69a" stroke-width="0.9"/><path d="M275.5 358.3V361.4" stroke="#26a69a" stroke-width="0.5"/><path d="M275.5 359.4V360.8" stroke="#26a69a" stroke-width="0.9"/><path d="M276.2 354.8V363.5" stroke="#26a69a" stroke-width="0.5"/><path d="M276.2 357.2V359.4" stroke="#26a69a" stroke-width="0.9"/><path d="M277.0 353.7V361.3" stroke="#26a69a" stroke-width="0.5"/><path d="M277.0 354.0V357.2" stroke="#26a69a" stroke-width="0.9"/><path d="M277.8 353.7V357.2" stroke="#ef5350" stroke-width="0.5"/><path d="M277.8 354.0V355.7" stroke="#ef5350" stroke-width="0.9"/><path d="M278.5 355.1V361.5" stroke="#ef5350" stroke-width="0.5"/><path d="M278.5 355.7V360.8" stroke="#ef5350" stroke-width="0.9"/><path d="M279.2 358.3V363.1" stroke="#26a69a" stroke-width="0.5"/><path d="M279.2 360.3V361.1" stroke="#26a69a" stroke-width="0.9"/><path d="M280.0 357.6V363.9" stroke="#ef5350" stroke-width="0.5"/><path d="M280.0 360.3V362.6" stroke="#ef5350" stroke-width="0.9"/><path d="M280.8 359.9V363.6" stroke="#26a69a" stroke-width="0.5"/><path d="M280.8 361.6V362.6" stroke="#26a69a" stroke-width="0.9"/><path d="M281.5 360.6V362.1" stroke="#26a69a" stroke-width="0.5"/><path d="M281.5 360.9V361.7" stroke="#26a69a" stroke-width="0.9"/><path d="M282.2 352.6V363.2" stroke="#26a69a" stroke-width="0.5"/><path d="M282.2 356.5V360.9" stroke="#26a69a" stroke-width="0.9"/><path d="M283.0 354.8V359.1" stroke="#26a69a" stroke-width="0.5"/><path d="M283.0 355.7V356.5" stroke="#26a69a" stroke-width="0.9"/><path d="M283.8 350.8V358.0" stroke="#26a69a" stroke-width="0.5"/><path d="M283.8 352.2V355.7" stroke="#26a69a" stroke-width="0.9"/><path d="M284.5 351.4V353.9" stroke="#ef5350" stroke-width="0.5"/><path d="M284.5 352.2V353.1" stroke="#ef5350" stroke-width="0.9"/><path d="M285.2 351.1V360.4" stroke="#ef5350" stroke-width="0.5"/><path d="M285.2 353.0V357.0" stroke="#ef5350" stroke-width="0.9"/><path d="M286.0 356.6V359.7" stroke="#ef5350" stroke-width="0.5"/><path d="M286.0 357.0V359.2" stroke="#ef5350" stroke-width="0.9"/><path d="M286.8 358.3V361.2" stroke="#ef5350" stroke-width="0.5"/><path d="M286.8 359.2V360.6" stroke="#ef5350" stroke-width="0.9"/><path d="M287.5 359.0V361.1" stroke="#26a69a" stroke-width="0.5"/><path d="M287.5 360.4V361.2" stroke="#26a69a" stroke-width="0.9"/><path d="M288.2 356.1V360.9" stroke="#26a69a" stroke-width="0.5"/><path d="M288.2 358.1V360.4" stroke="#26a69a" stroke-width="0.9"/><path d="M289.0 353.3V358.7" stroke="#26a69a" stroke-width="0.5"/><path d="M289.0 353.9V358.1" stroke="#26a69a" stroke-width="0.9"/><path d="M289.8 349.5V354.3" stroke="#26a69a" stroke-width="0.5"/><path d="M289.8 351.5V353.9" stroke="#26a69a" stroke-width="0.9"/><path d="M290.5 349.7V352.6" stroke="#ef5350" stroke-width="0.5"/><path d="M290.5 351.5V352.3" stroke="#ef5350" stroke-width="0.9"/><path d="M291.2 348.3V352.4" stroke="#ef5350" stroke-width="0.5"/><path d="M291.2 351.6V352.4" stroke="#ef5350" stroke-width="0.9"/><path d="M292.0 350.2V357.1" stroke="#ef5350" stroke-width="0.5"/><path d="M292.0 351.8V354.0" stroke="#ef5350" stroke-width="0.9"/><path d="M292.8 348.5V357.2" stroke="#26a69a" stroke-width="0.5"/><path d="M292.8 353.0V354.0" stroke="#26a69a" stroke-width="0.9"/><path d="M293.5 350.5V357.9" stroke="#ef5350" stroke-width="0.5"/><path d="M293.5 353.0V354.0" stroke="#ef5350" stroke-width="0.9"/><path d="M294.2 350.8V357.5" stroke="#ef5350" stroke-width="0.5"/><path d="M294.2 354.0V355.8" stroke="#ef5350" stroke-width="0.9"/><path d="M295.0 346.0V356.3" stroke="#26a69a" stroke-width="0.5"/><path d="M295.0 350.4V355.8" stroke="#26a69a" stroke-width="0.9"/><path d="M295.8 346.5V352.3" stroke="#26a69a" stroke-width="0.5"/><path d="M295.8 348.9V350.4" stroke="#26a69a" stroke-width="0.9"/><path d="M296.5 342.9V351.4" stroke="#26a69a" stroke-width="0.5"/><path d="M296.5 344.5V348.9" stroke="#26a69a" stroke-width="0.9"/><path d="M297.2 342.5V347.7" stroke="#26a69a" stroke-width="0.5"/><path d="M297.2 344.3V345.1" stroke="#26a69a" stroke-width="0.9"/><path d="M298.0 343.1V348.3" stroke="#ef5350" stroke-width="0.5"/><path d="M298.0 344.3V345.1" stroke="#ef5350" stroke-width="0.9"/><path d="M298.8 343.0V350.9" stroke="#ef5350" stroke-width="0.5"/><path d="M298.8 344.7V350.3" stroke="#ef5350" stroke-width="0.9"/><path d="M299.5 349.9V353.3" stroke="#ef5350" stroke-width="0.5"/><path d="M299.5 350.3V351.3" stroke="#ef5350" stroke-width="0.9"/><path d="M300.2 347.3V352.6" stroke="#26a69a" stroke-width="0.5"/><path d="M300.2 350.8V351.6" stroke="#26a69a" stroke-width="0.9"/><path d="M301.0 345.0V351.8" stroke="#26a69a" stroke-width="0.5"/><path d="M301.0 346.8V350.8" stroke="#26a69a" stroke-width="0.9"/><path d="M301.8 345.2V350.1" stroke="#26a69a" stroke-width="0.5"/><path d="M301.8 346.7V347.5" stroke="#26a69a" stroke-width="0.9"/><path d="M302.5 341.6V348.0" stroke="#26a69a" stroke-width="0.5"/><path d="M302.5 342.4V346.7" stroke="#26a69a" stroke-width="0.9"/><path d="M303.2 341.0V344.1" stroke="#ef5350" stroke-width="0.5"/><path d="M303.2 342.4V343.2" stroke="#ef5350" stroke-width="0.9"/><path d="M304.0 341.5V344.8" stroke="#26a69a" stroke-width="0.5"/><path d="M304.0 342.6V343.4" stroke="#26a69a" stroke-width="0.9"/><path d="M304.8 341.7V345.9" stroke="#ef5350" stroke-width="0.5"/><path d="M304.8 342.6V344.6" stroke="#ef5350" stroke-width="0.9"/><path d="M305.5 344.1V346.6" stroke="#ef5350" stroke-width="0.5"/><path d="M305.5 344.6V345.6" stroke="#ef5350" stroke-width="0.9"/><path d="M306.2 340.4V349.8" stroke="#ef5350" stroke-width="0.5"/><path d="M306.2 345.6V349.2" stroke="#ef5350" stroke-width="0.9"/><path d="M307.0 340.3V351.8" stroke="#26a69a" stroke-width="0.5"/><path d="M307.0 347.5V349.2" stroke="#26a69a" stroke-width="0.9"/><path d="M307.8 343.6V351.3" stroke="#26a69a" stroke-width="0.5"/><path d="M307.8 347.5V348.3" stroke="#26a69a" stroke-width="0.9"/><path d="M308.5 345.3V359.6" stroke="#ef5350" stroke-width="0.5"/><path d="M308.5 347.5V351.5" stroke="#ef5350" stroke-width="0.9"/><path d="M309.2 345.7V354.4" stroke="#ef5350" stroke-width="0.5"/><path d="M309.2 351.5V352.8" stroke="#ef5350" stroke-width="0.9"/><path d="M310.0 349.4V356.7" stroke="#26a69a" stroke-width="0.5"/><path d="M310.0 352.7V353.5" stroke="#26a69a" stroke-width="0.9"/><path d="M310.8 350.0V354.8" stroke="#ef5350" stroke-width="0.5"/><path d="M310.8 352.7V353.7" stroke="#ef5350" stroke-width="0.9"/><path d="M311.5 351.4V354.3" stroke="#26a69a" stroke-width="0.5"/><path d="M311.5 353.4V354.2" stroke="#26a69a" stroke-width="0.9"/><path d="M312.2 352.8V359.7" stroke="#ef5350" stroke-width="0.5"/><path d="M312.2 353.4V359.2" stroke="#ef5350" stroke-width="0.9"/><path d="M313.0 353.3V361.0" stroke="#ef5350" stroke-width="0.5"/><path d="M313.0 359.2V360.6" stroke="#ef5350" stroke-width="0.9"/><path d="M313.8 358.8V370.1" stroke="#ef5350" stroke-width="0.5"/><path d="M313.8 360.6V365.0" stroke="#ef5350" stroke-width="0.9"/><path d="M314.5 358.3V371.0" stroke="#ef5350" stroke-width="0.5"/><path d="M314.5 365.0V367.5" stroke="#ef5350" stroke-width="0.9"/><path d="M315.2 365.5V368.0" stroke="#ef5350" stroke-width="0.5"/><path d="M315.2 367.5V368.3" stroke="#ef5350" stroke-width="0.9"/><path d="M316.0 356.9V368.7" stroke="#26a69a" stroke-width="0.5"/><path d="M316.0 359.9V367.6" stroke="#26a69a" stroke-width="0.9"/><path d="M316.8 358.0V362.1" stroke="#ef5350" stroke-width="0.5"/><path d="M316.8 359.9V361.0" stroke="#ef5350" stroke-width="0.9"/><path d="M317.5 359.0V364.4" stroke="#ef5350" stroke-width="0.5"/><path d="M317.5 361.0V363.1" stroke="#ef5350" stroke-width="0.9"/><path d="M318.2 361.8V367.0" stroke="#ef5350" stroke-width="0.5"/><path d="M318.2 363.1V364.3" stroke="#ef5350" stroke-width="0.9"/><path d="M319.0 360.1V366.0" stroke="#ef5350" stroke-width="0.5"/><path d="M319.0 364.3V365.1" stroke="#ef5350" stroke-width="0.9"/><path d="M319.8 364.2V371.9" stroke="#ef5350" stroke-width="0.5"/><path d="M319.8 365.0V368.7" stroke="#ef5350" stroke-width="0.9"/><path d="M320.5 363.8V370.6" stroke="#26a69a" stroke-width="0.5"/><path d="M320.5 365.7V368.7" stroke="#26a69a" stroke-width="0.9"/><path d="M321.2 360.7V367.1" stroke="#26a69a" stroke-width="0.5"/><path d="M321.2 365.0V365.8" stroke="#26a69a" stroke-width="0.9"/><path d="M322.0 363.5V367.5" stroke="#26a69a" stroke-width="0.5"/><path d="M322.0 363.8V365.0" stroke="#26a69a" stroke-width="0.9"/><path d="M322.8 361.1V364.2" stroke="#26a69a" stroke-width="0.5"/><path d="M322.8 363.1V363.9" stroke="#26a69a" stroke-width="0.9"/><path d="M323.5 358.3V365.5" stroke="#26a69a" stroke-width="0.5"/><path d="M323.5 360.9V363.1" stroke="#26a69a" stroke-width="0.9"/><path d="M324.2 356.6V361.9" stroke="#26a69a" stroke-width="0.5"/><path d="M324.2 358.8V360.9" stroke="#26a69a" stroke-width="0.9"/><path d="M325.0 357.9V360.1" stroke="#26a69a" stroke-width="0.5"/><path d="M325.0 358.6V359.4" stroke="#26a69a" stroke-width="0.9"/><path d="M325.8 357.7V365.0" stroke="#ef5350" stroke-width="0.5"/><path d="M325.8 358.6V361.1" stroke="#ef5350" stroke-width="0.9"/><path d="M326.5 359.6V365.5" stroke="#26a69a" stroke-width="0.5"/><path d="M326.5 360.4V361.2" stroke="#26a69a" stroke-width="0.9"/><path d="M327.2 357.8V365.3" stroke="#ef5350" stroke-width="0.5"/><path d="M327.2 360.4V364.2" stroke="#ef5350" stroke-width="0.9"/><path d="M328.0 362.7V367.8" stroke="#ef5350" stroke-width="0.5"/><path d="M328.0 364.2V365.9" stroke="#ef5350" stroke-width="0.9"/><path d="M328.8 359.6V371.3" stroke="#ef5350" stroke-width="0.5"/><path d="M328.8 365.9V369.7" stroke="#ef5350" stroke-width="0.9"/><path d="M329.5 366.3V373.1" stroke="#ef5350" stroke-width="0.5"/><path d="M329.5 369.7V371.4" stroke="#ef5350" stroke-width="0.9"/><path d="M330.2 370.0V373.6" stroke="#ef5350" stroke-width="0.5"/><path d="M330.2 371.4V372.9" stroke="#ef5350" stroke-width="0.9"/><path d="M331.0 364.2V381.2" stroke="#26a69a" stroke-width="0.5"/><path d="M331.0 371.1V372.9" stroke="#26a69a" stroke-width="0.9"/><path d="M331.8 369.5V372.6" stroke="#ef5350" stroke-width="0.5"/><path d="M331.8 371.1V372.2" stroke="#ef5350" stroke-width="0.9"/><path d="M332.5 367.1V377.0" stroke="#26a69a" stroke-width="0.5"/><path d="M332.5 371.4V372.2" stroke="#26a69a" stroke-width="0.9"/><path d="M333.2 369.8V376.7" stroke="#ef5350" stroke-width="0.5"/><path d="M333.2 371.4V373.1" stroke="#ef5350" stroke-width="0.9"/><path d="M334.0 370.0V380.5" stroke="#ef5350" stroke-width="0.5"/><path d="M334.0 373.1V380.1" stroke="#ef5350" stroke-width="0.9"/><path d="M334.8 379.0V384.5" stroke="#ef5350" stroke-width="0.5"/><path d="M334.8 380.1V382.7" stroke="#ef5350" stroke-width="0.9"/><path d="M335.5 381.6V393.5" stroke="#ef5350" stroke-width="0.5"/><path d="M335.5 382.7V386.5" stroke="#ef5350" stroke-width="0.9"/><path d="M336.2 384.8V392.4" stroke="#ef5350" stroke-width="0.5"/><path d="M336.2 386.5V389.2" stroke="#ef5350" stroke-width="0.9"/><path d="M337.0 384.6V390.6" stroke="#ef5350" stroke-width="0.5"/><path d="M337.0 389.2V390.0" stroke="#ef5350" stroke-width="0.9"/><path d="M337.8 385.0V395.0" stroke="#26a69a" stroke-width="0.5"/><path d="M337.8 388.2V389.3" stroke="#26a69a" stroke-width="0.9"/><path d="M338.5 375.5V394.0" stroke="#26a69a" stroke-width="0.5"/><path d="M338.5 384.7V388.2" stroke="#26a69a" stroke-width="0.9"/><path d="M339.2 376.9V391.4" stroke="#26a69a" stroke-width="0.5"/><path d="M339.2 379.7V384.7" stroke="#26a69a" stroke-width="0.9"/><path d="M340.0 372.7V385.8" stroke="#26a69a" stroke-width="0.5"/><path d="M340.0 374.0V379.7" stroke="#26a69a" stroke-width="0.9"/><path d="M340.8 372.7V378.2" stroke="#ef5350" stroke-width="0.5"/><path d="M340.8 374.0V376.1" stroke="#ef5350" stroke-width="0.9"/><path d="M341.5 374.4V383.8" stroke="#ef5350" stroke-width="0.5"/><path d="M341.5 376.1V379.9" stroke="#ef5350" stroke-width="0.9"/><path d="M342.2 379.6V382.6" stroke="#ef5350" stroke-width="0.5"/><path d="M342.2 379.9V380.8" stroke="#ef5350" stroke-width="0.9"/><path d="M343.0 378.2V384.3" stroke="#ef5350" stroke-width="0.5"/><path d="M343.0 380.8V382.7" stroke="#ef5350" stroke-width="0.9"/><path d="M343.8 380.3V383.5" stroke="#26a69a" stroke-width="0.5"/><path d="M343.8 382.2V383.1" stroke="#26a69a" stroke-width="0.9"/><path d="M344.5 378.3V383.5" stroke="#26a69a" stroke-width="0.5"/><path d="M344.5 379.6V382.2" stroke="#26a69a" stroke-width="0.9"/><path d="M345.2 369.4V381.3" stroke="#26a69a" stroke-width="0.5"/><path d="M345.2 375.9V379.6" stroke="#26a69a" stroke-width="0.9"/><path d="M346.0 370.1V380.2" stroke="#26a69a" stroke-width="0.5"/><path d="M346.0 371.5V375.9" stroke="#26a69a" stroke-width="0.9"/><path d="M346.8 368.3V374.0" stroke="#26a69a" stroke-width="0.5"/><path d="M346.8 368.9V371.5" stroke="#26a69a" stroke-width="0.9"/><path d="M347.5 367.7V369.6" stroke="#26a69a" stroke-width="0.5"/><path d="M347.5 368.0V368.9" stroke="#26a69a" stroke-width="0.9"/><path d="M348.2 367.7V371.6" stroke="#ef5350" stroke-width="0.5"/><path d="M348.2 368.0V370.9" stroke="#ef5350" stroke-width="0.9"/><path d="M349.0 370.1V372.6" stroke="#ef5350" stroke-width="0.5"/><path d="M349.0 370.9V371.7" stroke="#ef5350" stroke-width="0.9"/><path d="M349.8 371.1V373.2" stroke="#ef5350" stroke-width="0.5"/><path d="M349.8 371.4V372.9" stroke="#ef5350" stroke-width="0.9"/><path d="M350.5 369.0V377.9" stroke="#ef5350" stroke-width="0.5"/><path d="M350.5 372.9V376.0" stroke="#ef5350" stroke-width="0.9"/><path d="M351.2 374.5V376.5" stroke="#26a69a" stroke-width="0.5"/><path d="M351.2 375.8V376.6" stroke="#26a69a" stroke-width="0.9"/><path d="M352.0 374.0V378.3" stroke="#ef5350" stroke-width="0.5"/><path d="M352.0 375.8V377.6" stroke="#ef5350" stroke-width="0.9"/><path d="M352.8 372.5V378.0" stroke="#26a69a" stroke-width="0.5"/><path d="M352.8 373.1V377.6" stroke="#26a69a" stroke-width="0.9"/><path d="M353.5 372.0V374.3" stroke="#26a69a" stroke-width="0.5"/><path d="M353.5 372.4V373.2" stroke="#26a69a" stroke-width="0.9"/><path d="M354.2 370.1V374.0" stroke="#26a69a" stroke-width="0.5"/><path d="M354.2 370.6V372.4" stroke="#26a69a" stroke-width="0.9"/><path d="M355.0 370.1V373.4" stroke="#ef5350" stroke-width="0.5"/><path d="M355.0 370.6V372.8" stroke="#ef5350" stroke-width="0.9"/><path d="M355.8 372.0V375.4" stroke="#ef5350" stroke-width="0.5"/><path d="M355.8 372.8V373.6" stroke="#ef5350" stroke-width="0.9"/><path d="M356.5 371.4V378.3" stroke="#ef5350" stroke-width="0.5"/><path d="M356.5 373.5V376.5" stroke="#ef5350" stroke-width="0.9"/><path d="M357.2 375.3V378.6" stroke="#ef5350" stroke-width="0.5"/><path d="M357.2 376.5V377.3" stroke="#ef5350" stroke-width="0.9"/><path d="M358.0 375.0V377.8" stroke="#26a69a" stroke-width="0.5"/><path d="M358.0 376.9V377.7" stroke="#26a69a" stroke-width="0.9"/><path d="M358.8 376.4V378.0" stroke="#ef5350" stroke-width="0.5"/><path d="M358.8 376.9V377.7" stroke="#ef5350" stroke-width="0.9"/><path d="M359.5 365.1V379.1" stroke="#26a69a" stroke-width="0.5"/><path d="M359.5 373.1V377.6" stroke="#26a69a" stroke-width="0.9"/><path d="M360.2 360.8V378.1" stroke="#26a69a" stroke-width="0.5"/><path d="M360.2 367.9V373.1" stroke="#26a69a" stroke-width="0.9"/><path d="M361.0 356.7V377.5" stroke="#26a69a" stroke-width="0.5"/><path d="M361.0 360.0V367.9" stroke="#26a69a" stroke-width="0.9"/><path d="M361.8 356.7V364.3" stroke="#26a69a" stroke-width="0.5"/><path d="M361.8 359.3V360.1" stroke="#26a69a" stroke-width="0.9"/><path d="M362.5 357.0V366.6" stroke="#ef5350" stroke-width="0.5"/><path d="M362.5 359.3V360.1" stroke="#ef5350" stroke-width="0.9"/><path d="M363.2 356.7V368.6" stroke="#ef5350" stroke-width="0.5"/><path d="M363.2 360.0V364.5" stroke="#ef5350" stroke-width="0.9"/><path d="M364.0 362.7V366.4" stroke="#ef5350" stroke-width="0.5"/><path d="M364.0 364.5V365.5" stroke="#ef5350" stroke-width="0.9"/><path d="M364.8 363.9V367.2" stroke="#26a69a" stroke-width="0.5"/><path d="M364.8 365.1V365.9" stroke="#26a69a" stroke-width="0.9"/><path d="M365.5 361.1V366.2" stroke="#26a69a" stroke-width="0.5"/><path d="M365.5 362.9V365.1" stroke="#26a69a" stroke-width="0.9"/><path d="M366.2 362.0V365.8" stroke="#ef5350" stroke-width="0.5"/><path d="M366.2 362.9V364.4" stroke="#ef5350" stroke-width="0.9"/><path d="M367.0 359.1V364.9" stroke="#26a69a" stroke-width="0.5"/><path d="M367.0 359.5V364.4" stroke="#26a69a" stroke-width="0.9"/><path d="M367.8 358.7V361.5" stroke="#26a69a" stroke-width="0.5"/><path d="M367.8 359.1V359.9" stroke="#26a69a" stroke-width="0.9"/><path d="M368.5 357.9V361.7" stroke="#ef5350" stroke-width="0.5"/><path d="M368.5 359.1V360.4" stroke="#ef5350" stroke-width="0.9"/><path d="M369.2 360.0V361.8" stroke="#ef5350" stroke-width="0.5"/><path d="M369.2 360.4V361.2" stroke="#ef5350" stroke-width="0.9"/><path d="M370.0 358.1V363.9" stroke="#ef5350" stroke-width="0.5"/><path d="M370.0 360.6V362.5" stroke="#ef5350" stroke-width="0.9"/><path d="M370.8 362.1V366.0" stroke="#ef5350" stroke-width="0.5"/><path d="M370.8 362.5V364.2" stroke="#ef5350" stroke-width="0.9"/><path d="M371.5 363.7V366.6" stroke="#ef5350" stroke-width="0.5"/><path d="M371.5 364.2V365.1" stroke="#ef5350" stroke-width="0.9"/><path d="M372.2 364.0V367.5" stroke="#26a69a" stroke-width="0.5"/><path d="M372.2 364.4V365.2" stroke="#26a69a" stroke-width="0.9"/><path d="M373.0 362.5V365.5" stroke="#26a69a" stroke-width="0.5"/><path d="M373.0 363.2V364.4" stroke="#26a69a" stroke-width="0.9"/><path d="M373.8 357.8V366.1" stroke="#26a69a" stroke-width="0.5"/><path d="M373.8 362.4V363.2" stroke="#26a69a" stroke-width="0.9"/><path d="M374.5 359.5V366.1" stroke="#26a69a" stroke-width="0.5"/><path d="M374.5 360.1V362.4" stroke="#26a69a" stroke-width="0.9"/><path d="M375.2 358.9V365.2" stroke="#ef5350" stroke-width="0.5"/><path d="M375.2 360.1V361.3" stroke="#ef5350" stroke-width="0.9"/><path d="M376.0 359.8V363.2" stroke="#ef5350" stroke-width="0.5"/><path d="M376.0 361.3V362.9" stroke="#ef5350" stroke-width="0.9"/><path d="M376.8 361.0V371.1" stroke="#ef5350" stroke-width="0.5"/><path d="M376.8 362.9V368.1" stroke="#ef5350" stroke-width="0.9"/><path d="M377.5 367.5V371.2" stroke="#ef5350" stroke-width="0.5"/><path d="M377.5 368.1V369.8" stroke="#ef5350" stroke-width="0.9"/><path d="M378.2 369.1V370.3" stroke="#26a69a" stroke-width="0.5"/><path d="M378.2 369.6V370.4" stroke="#26a69a" stroke-width="0.9"/><path d="M379.0 368.9V371.3" stroke="#ef5350" stroke-width="0.5"/><path d="M379.0 369.6V370.5" stroke="#ef5350" stroke-width="0.9"/><path d="M379.8 363.8V371.3" stroke="#26a69a" stroke-width="0.5"/><path d="M379.8 367.7V370.5" stroke="#26a69a" stroke-width="0.9"/><path d="M380.5 364.9V370.2" stroke="#26a69a" stroke-width="0.5"/><path d="M380.5 365.6V367.7" stroke="#26a69a" stroke-width="0.9"/><path d="M381.2 360.2V366.3" stroke="#26a69a" stroke-width="0.5"/><path d="M381.2 360.5V365.6" stroke="#26a69a" stroke-width="0.9"/><path d="M382.0 359.5V363.9" stroke="#26a69a" stroke-width="0.5"/><path d="M382.0 360.1V360.9" stroke="#26a69a" stroke-width="0.9"/><path d="M382.8 358.7V361.4" stroke="#ef5350" stroke-width="0.5"/><path d="M382.8 360.1V361.1" stroke="#ef5350" stroke-width="0.9"/><path d="M383.5 360.8V364.6" stroke="#ef5350" stroke-width="0.5"/><path d="M383.5 361.1V364.2" stroke="#ef5350" stroke-width="0.9"/><path d="M384.2 362.9V367.3" stroke="#ef5350" stroke-width="0.5"/><path d="M384.2 364.2V367.0" stroke="#ef5350" stroke-width="0.9"/><path d="M385.0 366.5V367.7" stroke="#ef5350" stroke-width="0.5"/><path d="M385.0 367.0V367.8" stroke="#ef5350" stroke-width="0.9"/><path d="M385.8 363.7V367.6" stroke="#26a69a" stroke-width="0.5"/><path d="M385.8 365.2V367.0" stroke="#26a69a" stroke-width="0.9"/><path d="M386.5 362.1V367.6" stroke="#26a69a" stroke-width="0.5"/><path d="M386.5 363.3V365.2" stroke="#26a69a" stroke-width="0.9"/><path d="M387.2 360.0V365.4" stroke="#26a69a" stroke-width="0.5"/><path d="M387.2 361.8V363.3" stroke="#26a69a" stroke-width="0.9"/><path d="M388.0 359.7V363.7" stroke="#26a69a" stroke-width="0.5"/><path d="M388.0 360.0V361.8" stroke="#26a69a" stroke-width="0.9"/><path d="M388.8 359.7V362.2" stroke="#ef5350" stroke-width="0.5"/><path d="M388.8 360.0V361.5" stroke="#ef5350" stroke-width="0.9"/><path d="M389.5 360.4V367.1" stroke="#ef5350" stroke-width="0.5"/><path d="M389.5 361.5V365.3" stroke="#ef5350" stroke-width="0.9"/><path d="M390.2 364.1V370.6" stroke="#ef5350" stroke-width="0.5"/><path d="M390.2 365.3V366.1" stroke="#ef5350" stroke-width="0.9"/><path d="M391.0 364.6V368.4" stroke="#ef5350" stroke-width="0.5"/><path d="M391.0 366.1V367.8" stroke="#ef5350" stroke-width="0.9"/><path d="M391.8 365.8V371.5" stroke="#ef5350" stroke-width="0.5"/><path d="M391.8 367.8V369.5" stroke="#ef5350" stroke-width="0.9"/><path d="M392.5 367.5V372.8" stroke="#26a69a" stroke-width="0.5"/><path d="M392.5 368.6V369.5" stroke="#26a69a" stroke-width="0.9"/><path d="M393.2 367.5V372.5" stroke="#26a69a" stroke-width="0.5"/><path d="M393.2 368.6V369.4" stroke="#26a69a" stroke-width="0.9"/><path d="M394.0 364.7V369.6" stroke="#26a69a" stroke-width="0.5"/><path d="M394.0 367.8V368.6" stroke="#26a69a" stroke-width="0.9"/><path d="M394.8 365.8V368.5" stroke="#ef5350" stroke-width="0.5"/><path d="M394.8 367.8V368.6" stroke="#ef5350" stroke-width="0.9"/><path d="M395.5 367.8V370.6" stroke="#ef5350" stroke-width="0.5"/><path d="M395.5 368.1V370.0" stroke="#ef5350" stroke-width="0.9"/><path d="M396.2 369.2V372.5" stroke="#ef5350" stroke-width="0.5"/><path d="M396.2 370.0V371.0" stroke="#ef5350" stroke-width="0.9"/><path d="M397.0 370.2V376.2" stroke="#ef5350" stroke-width="0.5"/><path d="M397.0 371.0V372.3" stroke="#ef5350" stroke-width="0.9"/><path d="M397.8 371.9V379.7" stroke="#ef5350" stroke-width="0.5"/><path d="M397.8 372.3V375.1" stroke="#ef5350" stroke-width="0.9"/><path d="M398.5 372.7V380.4" stroke="#ef5350" stroke-width="0.5"/><path d="M398.5 375.1V375.9" stroke="#ef5350" stroke-width="0.9"/><path d="M399.2 374.4V376.9" stroke="#26a69a" stroke-width="0.5"/><path d="M399.2 375.1V375.9" stroke="#26a69a" stroke-width="0.9"/><path d="M400.0 371.1V375.5" stroke="#26a69a" stroke-width="0.5"/><path d="M400.0 372.1V375.1" stroke="#26a69a" stroke-width="0.9"/><path d="M400.8 371.1V373.5" stroke="#26a69a" stroke-width="0.5"/><path d="M400.8 372.0V372.8" stroke="#26a69a" stroke-width="0.9"/><path d="M401.5 371.0V377.0" stroke="#ef5350" stroke-width="0.5"/><path d="M401.5 372.0V374.3" stroke="#ef5350" stroke-width="0.9"/><path d="M402.2 372.3V377.8" stroke="#ef5350" stroke-width="0.5"/><path d="M402.2 374.3V377.0" stroke="#ef5350" stroke-width="0.9"/><path d="M403.0 376.6V379.8" stroke="#ef5350" stroke-width="0.5"/><path d="M403.0 377.0V377.8" stroke="#ef5350" stroke-width="0.9"/><path d="M403.8 375.7V380.3" stroke="#ef5350" stroke-width="0.5"/><path d="M403.8 377.3V378.8" stroke="#ef5350" stroke-width="0.9"/><path d="M404.5 377.2V380.3" stroke="#26a69a" stroke-width="0.5"/><path d="M404.5 377.8V378.8" stroke="#26a69a" stroke-width="0.9"/><path d="M405.2 375.6V379.1" stroke="#26a69a" stroke-width="0.5"/><path d="M405.2 376.2V377.8" stroke="#26a69a" stroke-width="0.9"/><path d="M406.0 371.7V376.6" stroke="#26a69a" stroke-width="0.5"/><path d="M406.0 373.4V376.2" stroke="#26a69a" stroke-width="0.9"/><path d="M406.8 371.8V375.6" stroke="#ef5350" stroke-width="0.5"/><path d="M406.8 373.4V374.2" stroke="#ef5350" stroke-width="0.9"/><path d="M407.5 372.9V374.1" stroke="#26a69a" stroke-width="0.5"/><path d="M407.5 373.5V374.3" stroke="#26a69a" stroke-width="0.9"/><path d="M408.2 372.3V374.0" stroke="#26a69a" stroke-width="0.5"/><path d="M408.2 373.3V374.1" stroke="#26a69a" stroke-width="0.9"/><path d="M409.0 372.5V378.3" stroke="#ef5350" stroke-width="0.5"/><path d="M409.0 373.3V375.5" stroke="#ef5350" stroke-width="0.9"/><path d="M409.8 374.9V381.2" stroke="#ef5350" stroke-width="0.5"/><path d="M409.8 375.5V377.8" stroke="#ef5350" stroke-width="0.9"/><path d="M410.5 376.2V380.2" stroke="#ef5350" stroke-width="0.5"/><path d="M410.5 377.8V379.2" stroke="#ef5350" stroke-width="0.9"/><path d="M411.2 375.7V380.8" stroke="#ef5350" stroke-width="0.5"/><path d="M411.2 379.2V380.5" stroke="#ef5350" stroke-width="0.9"/><path d="M412.0 377.4V386.1" stroke="#26a69a" stroke-width="0.5"/><path d="M412.0 379.3V380.5" stroke="#26a69a" stroke-width="0.9"/><path d="M412.8 378.3V381.3" stroke="#ef5350" stroke-width="0.5"/><path d="M412.8 379.3V380.1" stroke="#ef5350" stroke-width="0.9"/><path d="M413.5 375.0V383.6" stroke="#26a69a" stroke-width="0.5"/><path d="M413.5 377.8V380.1" stroke="#26a69a" stroke-width="0.9"/><path d="M414.2 376.9V382.1" stroke="#ef5350" stroke-width="0.5"/><path d="M414.2 377.8V379.4" stroke="#ef5350" stroke-width="0.9"/><path d="M415.0 377.0V385.8" stroke="#ef5350" stroke-width="0.5"/><path d="M415.0 379.4V381.8" stroke="#ef5350" stroke-width="0.9"/><path d="M415.8 378.3V385.9" stroke="#26a69a" stroke-width="0.5"/><path d="M415.8 380.1V381.8" stroke="#26a69a" stroke-width="0.9"/><path d="M416.5 378.3V387.4" stroke="#ef5350" stroke-width="0.5"/><path d="M416.5 380.1V383.8" stroke="#ef5350" stroke-width="0.9"/><path d="M417.2 382.9V388.0" stroke="#ef5350" stroke-width="0.5"/><path d="M417.2 383.8V385.6" stroke="#ef5350" stroke-width="0.9"/><path d="M418.0 384.7V390.8" stroke="#ef5350" stroke-width="0.5"/><path d="M418.0 385.6V390.4" stroke="#ef5350" stroke-width="0.9"/><path d="M418.8 389.2V391.1" stroke="#26a69a" stroke-width="0.5"/><path d="M418.8 389.5V390.4" stroke="#26a69a" stroke-width="0.9"/><path d="M419.5 384.3V389.9" stroke="#26a69a" stroke-width="0.5"/><path d="M419.5 386.8V389.5" stroke="#26a69a" stroke-width="0.9"/><path d="M420.2 381.7V389.7" stroke="#26a69a" stroke-width="0.5"/><path d="M420.2 383.9V386.8" stroke="#26a69a" stroke-width="0.9"/><path d="M421.0 380.2V384.3" stroke="#26a69a" stroke-width="0.5"/><path d="M421.0 381.9V383.9" stroke="#26a69a" stroke-width="0.9"/><path d="M421.8 379.5V382.3" stroke="#26a69a" stroke-width="0.5"/><path d="M421.8 380.4V381.9" stroke="#26a69a" stroke-width="0.9"/><path d="M422.5 380.0V382.5" stroke="#ef5350" stroke-width="0.5"/><path d="M422.5 380.4V381.4" stroke="#ef5350" stroke-width="0.9"/><path d="M423.2 380.6V383.2" stroke="#26a69a" stroke-width="0.5"/><path d="M423.2 381.1V381.9" stroke="#26a69a" stroke-width="0.9"/><path d="M424.0 380.2V383.0" stroke="#ef5350" stroke-width="0.5"/><path d="M424.0 381.1V381.9" stroke="#ef5350" stroke-width="0.9"/><path d="M424.8 381.1V386.5" stroke="#ef5350" stroke-width="0.5"/><path d="M424.8 381.7V383.2" stroke="#ef5350" stroke-width="0.9"/><path d="M425.5 382.4V385.7" stroke="#ef5350" stroke-width="0.5"/><path d="M425.5 383.2V385.4" stroke="#ef5350" stroke-width="0.9"/><path d="M426.2 383.1V386.7" stroke="#26a69a" stroke-width="0.5"/><path d="M426.2 384.1V385.4" stroke="#26a69a" stroke-width="0.9"/><path d="M427.0 382.7V386.3" stroke="#ef5350" stroke-width="0.5"/><path d="M427.0 384.1V384.9" stroke="#ef5350" stroke-width="0.9"/><path d="M427.8 376.4V386.1" stroke="#26a69a" stroke-width="0.5"/><path d="M427.8 380.9V384.9" stroke="#26a69a" stroke-width="0.9"/><path d="M428.5 375.6V384.2" stroke="#26a69a" stroke-width="0.5"/><path d="M428.5 378.9V380.9" stroke="#26a69a" stroke-width="0.9"/><path d="M429.2 358.0V379.2" stroke="#26a69a" stroke-width="0.5"/><path d="M429.2 375.8V378.9" stroke="#26a69a" stroke-width="0.9"/><path d="M430.0 361.4V378.2" stroke="#26a69a" stroke-width="0.5"/><path d="M430.0 365.9V375.8" stroke="#26a69a" stroke-width="0.9"/><path d="M430.8 355.2V376.9" stroke="#26a69a" stroke-width="0.5"/><path d="M430.8 359.7V365.9" stroke="#26a69a" stroke-width="0.9"/><path d="M431.5 355.9V371.6" stroke="#ef5350" stroke-width="0.5"/><path d="M431.5 359.7V368.5" stroke="#ef5350" stroke-width="0.9"/><path d="M432.2 368.2V370.2" stroke="#ef5350" stroke-width="0.5"/><path d="M432.2 368.5V369.3" stroke="#ef5350" stroke-width="0.9"/><path d="M433.0 365.5V369.9" stroke="#26a69a" stroke-width="0.5"/><path d="M433.0 366.2V368.6" stroke="#26a69a" stroke-width="0.9"/><path d="M433.8 363.0V367.2" stroke="#26a69a" stroke-width="0.5"/><path d="M433.8 365.2V366.2" stroke="#26a69a" stroke-width="0.9"/><path d="M434.5 359.7V366.7" stroke="#26a69a" stroke-width="0.5"/><path d="M434.5 361.3V365.2" stroke="#26a69a" stroke-width="0.9"/><path d="M435.2 359.7V364.3" stroke="#26a69a" stroke-width="0.5"/><path d="M435.2 360.2V361.3" stroke="#26a69a" stroke-width="0.9"/><path d="M436.0 359.7V361.1" stroke="#ef5350" stroke-width="0.5"/><path d="M436.0 360.2V361.0" stroke="#ef5350" stroke-width="0.9"/><path d="M436.8 359.7V363.7" stroke="#ef5350" stroke-width="0.5"/><path d="M436.8 360.6V362.2" stroke="#ef5350" stroke-width="0.9"/><path d="M437.5 360.9V369.2" stroke="#ef5350" stroke-width="0.5"/><path d="M437.5 362.2V367.3" stroke="#ef5350" stroke-width="0.9"/><path d="M438.2 363.7V370.2" stroke="#ef5350" stroke-width="0.5"/><path d="M438.2 367.3V369.9" stroke="#ef5350" stroke-width="0.9"/><path d="M439.0 369.1V370.3" stroke="#ef5350" stroke-width="0.5"/><path d="M439.0 369.9V370.7" stroke="#ef5350" stroke-width="0.9"/><path d="M439.8 356.3V370.3" stroke="#26a69a" stroke-width="0.5"/><path d="M439.8 363.6V369.9" stroke="#26a69a" stroke-width="0.9"/><path d="M440.5 354.4V367.5" stroke="#26a69a" stroke-width="0.5"/><path d="M440.5 361.7V363.6" stroke="#26a69a" stroke-width="0.9"/><path d="M441.2 353.5V368.3" stroke="#26a69a" stroke-width="0.5"/><path d="M441.2 354.5V361.7" stroke="#26a69a" stroke-width="0.9"/><path d="M442.0 353.7V355.6" stroke="#26a69a" stroke-width="0.5"/><path d="M442.0 354.0V354.8" stroke="#26a69a" stroke-width="0.9"/><path d="M442.8 346.3V355.7" stroke="#26a69a" stroke-width="0.5"/><path d="M442.8 347.7V354.0" stroke="#26a69a" stroke-width="0.9"/><path d="M443.5 346.8V353.0" stroke="#ef5350" stroke-width="0.5"/><path d="M443.5 347.7V350.9" stroke="#ef5350" stroke-width="0.9"/><path d="M444.2 343.0V352.5" stroke="#26a69a" stroke-width="0.5"/><path d="M444.2 344.9V350.9" stroke="#26a69a" stroke-width="0.9"/><path d="M445.0 343.1V361.7" stroke="#ef5350" stroke-width="0.5"/><path d="M445.0 344.9V359.6" stroke="#ef5350" stroke-width="0.9"/><path d="M445.8 343.3V366.6" stroke="#ef5350" stroke-width="0.5"/><path d="M445.8 359.6V364.4" stroke="#ef5350" stroke-width="0.9"/><path d="M446.5 352.9V367.3" stroke="#26a69a" stroke-width="0.5"/><path d="M446.5 357.1V364.4" stroke="#26a69a" stroke-width="0.9"/><path d="M447.2 353.6V361.0" stroke="#ef5350" stroke-width="0.5"/><path d="M447.2 357.1V357.9" stroke="#ef5350" stroke-width="0.9"/><path d="M448.0 353.6V360.4" stroke="#26a69a" stroke-width="0.5"/><path d="M448.0 356.0V357.6" stroke="#26a69a" stroke-width="0.9"/><path d="M448.8 352.9V362.2" stroke="#ef5350" stroke-width="0.5"/><path d="M448.8 356.0V358.7" stroke="#ef5350" stroke-width="0.9"/><path d="M449.5 356.4V364.2" stroke="#ef5350" stroke-width="0.5"/><path d="M449.5 358.7V361.9" stroke="#ef5350" stroke-width="0.9"/><path d="M450.2 361.5V364.6" stroke="#ef5350" stroke-width="0.5"/><path d="M450.2 361.9V362.7" stroke="#ef5350" stroke-width="0.9"/><path d="M451.0 362.0V366.8" stroke="#ef5350" stroke-width="0.5"/><path d="M451.0 362.3V364.9" stroke="#ef5350" stroke-width="0.9"/><path d="M451.8 364.5V366.6" stroke="#ef5350" stroke-width="0.5"/><path d="M451.8 364.9V365.7" stroke="#ef5350" stroke-width="0.9"/><path d="M452.5 355.9V365.8" stroke="#26a69a" stroke-width="0.5"/><path d="M452.5 360.3V365.2" stroke="#26a69a" stroke-width="0.9"/><path d="M453.2 359.3V365.5" stroke="#26a69a" stroke-width="0.5"/><path d="M453.2 359.7V360.5" stroke="#26a69a" stroke-width="0.9"/><path d="M454.0 354.6V362.1" stroke="#26a69a" stroke-width="0.5"/><path d="M454.0 358.9V359.7" stroke="#26a69a" stroke-width="0.9"/><path d="M454.8 356.3V360.1" stroke="#26a69a" stroke-width="0.5"/><path d="M454.8 356.7V358.9" stroke="#26a69a" stroke-width="0.9"/><path d="M455.5 352.9V357.0" stroke="#26a69a" stroke-width="0.5"/><path d="M455.5 353.7V356.7" stroke="#26a69a" stroke-width="0.9"/><path d="M456.2 348.9V355.9" stroke="#26a69a" stroke-width="0.5"/><path d="M456.2 350.9V353.7" stroke="#26a69a" stroke-width="0.9"/><path d="M457.0 343.4V356.7" stroke="#ef5350" stroke-width="0.5"/><path d="M457.0 350.9V353.0" stroke="#ef5350" stroke-width="0.9"/><path d="M457.8 348.0V361.1" stroke="#ef5350" stroke-width="0.5"/><path d="M457.8 353.0V357.7" stroke="#ef5350" stroke-width="0.9"/><path d="M458.5 352.2V361.0" stroke="#26a69a" stroke-width="0.5"/><path d="M458.5 355.2V357.7" stroke="#26a69a" stroke-width="0.9"/><path d="M459.2 347.6V360.5" stroke="#26a69a" stroke-width="0.5"/><path d="M459.2 353.7V355.2" stroke="#26a69a" stroke-width="0.9"/><path d="M460.0 340.7V358.3" stroke="#26a69a" stroke-width="0.5"/><path d="M460.0 342.3V353.7" stroke="#26a69a" stroke-width="0.9"/><path d="M460.8 334.0V344.6" stroke="#26a69a" stroke-width="0.5"/><path d="M460.8 341.1V342.3" stroke="#26a69a" stroke-width="0.9"/><path d="M461.5 322.6V345.9" stroke="#26a69a" stroke-width="0.5"/><path d="M461.5 329.5V341.1" stroke="#26a69a" stroke-width="0.9"/><path d="M462.2 326.4V331.9" stroke="#ef5350" stroke-width="0.5"/><path d="M462.2 329.5V330.9" stroke="#ef5350" stroke-width="0.9"/><path d="M463.0 330.5V337.5" stroke="#ef5350" stroke-width="0.5"/><path d="M463.0 330.9V334.0" stroke="#ef5350" stroke-width="0.9"/><path d="M463.8 332.1V337.5" stroke="#ef5350" stroke-width="0.5"/><path d="M463.8 334.0V336.6" stroke="#ef5350" stroke-width="0.9"/><path d="M464.5 333.7V344.1" stroke="#ef5350" stroke-width="0.5"/><path d="M464.5 336.6V343.6" stroke="#ef5350" stroke-width="0.9"/><path d="M465.2 342.4V345.3" stroke="#ef5350" stroke-width="0.5"/><path d="M465.2 343.6V345.0" stroke="#ef5350" stroke-width="0.9"/><path d="M466.0 342.3V346.4" stroke="#26a69a" stroke-width="0.5"/><path d="M466.0 342.7V345.0" stroke="#26a69a" stroke-width="0.9"/><path d="M466.8 336.3V343.2" stroke="#26a69a" stroke-width="0.5"/><path d="M466.8 339.1V342.7" stroke="#26a69a" stroke-width="0.9"/><path d="M467.5 333.5V341.2" stroke="#26a69a" stroke-width="0.5"/><path d="M467.5 338.2V339.1" stroke="#26a69a" stroke-width="0.9"/><path d="M468.2 333.1V340.2" stroke="#26a69a" stroke-width="0.5"/><path d="M468.2 336.6V338.2" stroke="#26a69a" stroke-width="0.9"/><path d="M469.0 334.2V339.1" stroke="#ef5350" stroke-width="0.5"/><path d="M469.0 336.6V337.4" stroke="#ef5350" stroke-width="0.9"/><path d="M469.8 336.1V342.4" stroke="#ef5350" stroke-width="0.5"/><path d="M469.8 337.0V338.7" stroke="#ef5350" stroke-width="0.9"/><path d="M470.5 337.5V348.8" stroke="#ef5350" stroke-width="0.5"/><path d="M470.5 338.7V344.2" stroke="#ef5350" stroke-width="0.9"/><path d="M471.2 331.2V344.9" stroke="#26a69a" stroke-width="0.5"/><path d="M471.2 335.3V344.2" stroke="#26a69a" stroke-width="0.9"/><path d="M472.0 330.4V343.7" stroke="#ef5350" stroke-width="0.5"/><path d="M472.0 335.3V340.4" stroke="#ef5350" stroke-width="0.9"/><path d="M472.8 326.0V345.0" stroke="#ef5350" stroke-width="0.5"/><path d="M472.8 340.4V342.1" stroke="#ef5350" stroke-width="0.9"/><path d="M473.5 340.2V350.9" stroke="#ef5350" stroke-width="0.5"/><path d="M473.5 342.1V348.7" stroke="#ef5350" stroke-width="0.9"/><path d="M474.2 326.7V349.3" stroke="#26a69a" stroke-width="0.5"/><path d="M474.2 332.2V348.7" stroke="#26a69a" stroke-width="0.9"/><path d="M475.0 328.7V344.9" stroke="#ef5350" stroke-width="0.5"/><path d="M475.0 332.2V342.7" stroke="#ef5350" stroke-width="0.9"/><path d="M475.8 339.3V343.2" stroke="#26a69a" stroke-width="0.5"/><path d="M475.8 340.1V342.7" stroke="#26a69a" stroke-width="0.9"/><path d="M476.5 339.8V354.3" stroke="#ef5350" stroke-width="0.5"/><path d="M476.5 340.1V344.2" stroke="#ef5350" stroke-width="0.9"/><path d="M477.2 340.4V348.6" stroke="#26a69a" stroke-width="0.5"/><path d="M477.2 343.8V344.6" stroke="#26a69a" stroke-width="0.9"/><path d="M478.0 335.9V345.4" stroke="#26a69a" stroke-width="0.5"/><path d="M478.0 339.5V343.8" stroke="#26a69a" stroke-width="0.9"/><path d="M478.8 330.1V347.3" stroke="#26a69a" stroke-width="0.5"/><path d="M478.8 335.3V339.5" stroke="#26a69a" stroke-width="0.9"/><path d="M479.5 334.9V348.4" stroke="#ef5350" stroke-width="0.5"/><path d="M479.5 335.3V341.9" stroke="#ef5350" stroke-width="0.9"/><path d="M480.2 335.5V348.8" stroke="#26a69a" stroke-width="0.5"/><path d="M480.2 340.6V341.9" stroke="#26a69a" stroke-width="0.9"/><path d="M481.0 315.4V347.5" stroke="#26a69a" stroke-width="0.5"/><path d="M481.0 326.7V340.6" stroke="#26a69a" stroke-width="0.9"/><path d="M481.8 319.4V330.4" stroke="#26a69a" stroke-width="0.5"/><path d="M481.8 321.6V326.7" stroke="#26a69a" stroke-width="0.9"/><path d="M482.5 306.4V340.5" stroke="#ef5350" stroke-width="0.5"/><path d="M482.5 321.6V328.4" stroke="#ef5350" stroke-width="0.9"/><path d="M483.2 305.7V337.1" stroke="#26a69a" stroke-width="0.5"/><path d="M483.2 319.1V328.4" stroke="#26a69a" stroke-width="0.9"/><path d="M484.0 309.7V329.1" stroke="#26a69a" stroke-width="0.5"/><path d="M484.0 318.4V319.2" stroke="#26a69a" stroke-width="0.9"/><path d="M484.8 308.1V324.7" stroke="#26a69a" stroke-width="0.5"/><path d="M484.8 316.3V318.4" stroke="#26a69a" stroke-width="0.9"/><path d="M485.5 302.8V320.4" stroke="#ef5350" stroke-width="0.5"/><path d="M485.5 316.3V317.2" stroke="#ef5350" stroke-width="0.9"/><path d="M486.2 304.2V320.8" stroke="#26a69a" stroke-width="0.5"/><path d="M486.2 312.6V317.2" stroke="#26a69a" stroke-width="0.9"/><path d="M487.0 310.4V327.4" stroke="#ef5350" stroke-width="0.5"/><path d="M487.0 312.6V315.6" stroke="#ef5350" stroke-width="0.9"/><path d="M487.8 308.0V330.7" stroke="#26a69a" stroke-width="0.5"/><path d="M487.8 314.3V315.6" stroke="#26a69a" stroke-width="0.9"/><path d="M488.5 307.2V333.2" stroke="#ef5350" stroke-width="0.5"/><path d="M488.5 314.3V316.3" stroke="#ef5350" stroke-width="0.9"/><path d="M489.2 310.1V335.2" stroke="#ef5350" stroke-width="0.5"/><path d="M489.2 316.3V331.3" stroke="#ef5350" stroke-width="0.9"/><path d="M490.0 314.2V335.9" stroke="#26a69a" stroke-width="0.5"/><path d="M490.0 324.1V331.3" stroke="#26a69a" stroke-width="0.9"/><path d="M490.8 321.5V337.6" stroke="#ef5350" stroke-width="0.5"/><path d="M490.8 324.1V328.9" stroke="#ef5350" stroke-width="0.9"/><path d="M491.5 326.4V345.3" stroke="#ef5350" stroke-width="0.5"/><path d="M491.5 328.9V342.1" stroke="#ef5350" stroke-width="0.9"/><path d="M492.2 334.8V342.5" stroke="#26a69a" stroke-width="0.5"/><path d="M492.2 337.5V342.1" stroke="#26a69a" stroke-width="0.9"/><path d="M493.0 330.0V338.4" stroke="#26a69a" stroke-width="0.5"/><path d="M493.0 331.7V337.5" stroke="#26a69a" stroke-width="0.9"/><path d="M493.8 326.4V333.4" stroke="#26a69a" stroke-width="0.5"/><path d="M493.8 330.5V331.7" stroke="#26a69a" stroke-width="0.9"/><path d="M494.5 329.8V336.9" stroke="#ef5350" stroke-width="0.5"/><path d="M494.5 330.5V332.2" stroke="#ef5350" stroke-width="0.9"/><path d="M495.2 330.7V332.9" stroke="#26a69a" stroke-width="0.5"/><path d="M495.2 331.0V332.2" stroke="#26a69a" stroke-width="0.9"/><path d="M496.0 329.5V332.8" stroke="#ef5350" stroke-width="0.5"/><path d="M496.0 331.0V332.3" stroke="#ef5350" stroke-width="0.9"/><path d="M496.8 330.0V337.7" stroke="#ef5350" stroke-width="0.5"/><path d="M496.8 332.3V336.2" stroke="#ef5350" stroke-width="0.9"/><path d="M497.5 332.7V337.8" stroke="#26a69a" stroke-width="0.5"/><path d="M497.5 334.4V336.2" stroke="#26a69a" stroke-width="0.9"/><path d="M498.2 326.0V335.6" stroke="#26a69a" stroke-width="0.5"/><path d="M498.2 328.3V334.4" stroke="#26a69a" stroke-width="0.9"/><path d="M499.0 324.1V331.9" stroke="#26a69a" stroke-width="0.5"/><path d="M499.0 325.2V328.3" stroke="#26a69a" stroke-width="0.9"/><path d="M499.8 323.7V326.7" stroke="#26a69a" stroke-width="0.5"/><path d="M499.8 324.0V325.2" stroke="#26a69a" stroke-width="0.9"/><path d="M500.5 323.7V325.2" stroke="#ef5350" stroke-width="0.5"/><path d="M500.5 324.0V324.9" stroke="#ef5350" stroke-width="0.9"/><path d="M501.2 323.7V327.6" stroke="#26a69a" stroke-width="0.5"/><path d="M501.2 324.0V324.9" stroke="#26a69a" stroke-width="0.9"/><path d="M502.0 323.7V327.9" stroke="#ef5350" stroke-width="0.5"/><path d="M502.0 324.0V326.1" stroke="#ef5350" stroke-width="0.9"/><path d="M502.8 325.4V330.7" stroke="#ef5350" stroke-width="0.5"/><path d="M502.8 326.1V329.2" stroke="#ef5350" stroke-width="0.9"/><path d="M503.5 327.2V335.3" stroke="#ef5350" stroke-width="0.5"/><path d="M503.5 329.2V334.5" stroke="#ef5350" stroke-width="0.9"/><path d="M504.2 331.2V335.3" stroke="#26a69a" stroke-width="0.5"/><path d="M504.2 333.3V334.5" stroke="#26a69a" stroke-width="0.9"/><path d="M505.0 329.5V333.7" stroke="#26a69a" stroke-width="0.5"/><path d="M505.0 330.4V333.3" stroke="#26a69a" stroke-width="0.9"/><path d="M505.8 328.7V332.6" stroke="#26a69a" stroke-width="0.5"/><path d="M505.8 329.2V330.4" stroke="#26a69a" stroke-width="0.9"/><path d="M506.5 327.5V332.3" stroke="#26a69a" stroke-width="0.5"/><path d="M506.5 328.4V329.2" stroke="#26a69a" stroke-width="0.9"/><path d="M507.2 325.8V331.3" stroke="#26a69a" stroke-width="0.5"/><path d="M507.2 326.6V328.4" stroke="#26a69a" stroke-width="0.9"/><path d="M508.0 325.1V327.6" stroke="#26a69a" stroke-width="0.5"/><path d="M508.0 325.7V326.6" stroke="#26a69a" stroke-width="0.9"/><path d="M508.8 325.1V329.4" stroke="#ef5350" stroke-width="0.5"/><path d="M508.8 325.7V328.9" stroke="#ef5350" stroke-width="0.9"/><path d="M509.5 326.8V329.6" stroke="#26a69a" stroke-width="0.5"/><path d="M509.5 328.8V329.6" stroke="#26a69a" stroke-width="0.9"/><path d="M510.2 327.7V334.3" stroke="#ef5350" stroke-width="0.5"/><path d="M510.2 328.8V333.0" stroke="#ef5350" stroke-width="0.9"/><path d="M511.0 330.7V334.5" stroke="#ef5350" stroke-width="0.5"/><path d="M511.0 333.0V333.8" stroke="#ef5350" stroke-width="0.9"/><path d="M511.8 331.3V334.9" stroke="#26a69a" stroke-width="0.5"/><path d="M511.8 331.9V333.3" stroke="#26a69a" stroke-width="0.9"/><path d="M512.5 328.9V333.2" stroke="#ef5350" stroke-width="0.5"/><path d="M512.5 331.9V332.7" stroke="#ef5350" stroke-width="0.9"/><path d="M513.2 326.4V334.6" stroke="#26a69a" stroke-width="0.5"/><path d="M513.2 328.9V332.5" stroke="#26a69a" stroke-width="0.9"/><path d="M514.0 324.9V333.4" stroke="#26a69a" stroke-width="0.5"/><path d="M514.0 327.4V328.9" stroke="#26a69a" stroke-width="0.9"/><path d="M514.8 320.4V329.0" stroke="#26a69a" stroke-width="0.5"/><path d="M514.8 323.6V327.4" stroke="#26a69a" stroke-width="0.9"/><path d="M515.5 319.5V325.5" stroke="#ef5350" stroke-width="0.5"/><path d="M515.5 323.6V324.4" stroke="#ef5350" stroke-width="0.9"/><path d="M516.2 321.2V326.5" stroke="#26a69a" stroke-width="0.5"/><path d="M516.2 323.7V324.5" stroke="#26a69a" stroke-width="0.9"/><path d="M517.0 323.3V331.5" stroke="#ef5350" stroke-width="0.5"/><path d="M517.0 323.7V329.6" stroke="#ef5350" stroke-width="0.9"/><path d="M517.8 326.5V333.2" stroke="#ef5350" stroke-width="0.5"/><path d="M517.8 329.6V330.7" stroke="#ef5350" stroke-width="0.9"/><path d="M518.5 317.4V333.6" stroke="#26a69a" stroke-width="0.5"/><path d="M518.5 329.9V330.7" stroke="#26a69a" stroke-width="0.9"/><path d="M519.2 326.3V331.9" stroke="#26a69a" stroke-width="0.5"/><path d="M519.2 329.6V330.4" stroke="#26a69a" stroke-width="0.9"/><path d="M520.0 324.9V333.3" stroke="#26a69a" stroke-width="0.5"/><path d="M520.0 328.0V329.6" stroke="#26a69a" stroke-width="0.9"/><path d="M520.8 319.2V330.7" stroke="#26a69a" stroke-width="0.5"/><path d="M520.8 322.4V328.0" stroke="#26a69a" stroke-width="0.9"/><path d="M521.5 321.5V325.6" stroke="#ef5350" stroke-width="0.5"/><path d="M521.5 322.4V324.8" stroke="#ef5350" stroke-width="0.9"/><path d="M522.2 321.5V328.6" stroke="#26a69a" stroke-width="0.5"/><path d="M522.2 323.8V324.8" stroke="#26a69a" stroke-width="0.9"/><path d="M523.0 322.4V324.1" stroke="#26a69a" stroke-width="0.5"/><path d="M523.0 323.3V324.1" stroke="#26a69a" stroke-width="0.9"/><path d="M523.8 322.6V330.2" stroke="#ef5350" stroke-width="0.5"/><path d="M523.8 323.3V329.8" stroke="#ef5350" stroke-width="0.9"/><path d="M524.5 328.3V330.4" stroke="#26a69a" stroke-width="0.5"/><path d="M524.5 328.7V329.8" stroke="#26a69a" stroke-width="0.9"/><path d="M525.2 327.8V333.3" stroke="#ef5350" stroke-width="0.5"/><path d="M525.2 328.7V331.7" stroke="#ef5350" stroke-width="0.9"/><path d="M526.0 329.1V333.3" stroke="#ef5350" stroke-width="0.5"/><path d="M526.0 331.7V332.5" stroke="#ef5350" stroke-width="0.9"/><path d="M526.8 329.4V333.3" stroke="#26a69a" stroke-width="0.5"/><path d="M526.8 329.8V332.3" stroke="#26a69a" stroke-width="0.9"/><path d="M527.5 327.5V331.0" stroke="#26a69a" stroke-width="0.5"/><path d="M527.5 329.4V330.2" stroke="#26a69a" stroke-width="0.9"/><path d="M528.2 323.7V332.8" stroke="#26a69a" stroke-width="0.5"/><path d="M528.2 324.4V329.4" stroke="#26a69a" stroke-width="0.9"/><path d="M529.0 319.8V324.8" stroke="#26a69a" stroke-width="0.5"/><path d="M529.0 322.4V324.4" stroke="#26a69a" stroke-width="0.9"/><path d="M529.8 319.8V324.6" stroke="#26a69a" stroke-width="0.5"/><path d="M529.8 320.1V322.4" stroke="#26a69a" stroke-width="0.9"/><path d="M530.5 319.8V326.5" stroke="#ef5350" stroke-width="0.5"/><path d="M530.5 320.1V325.7" stroke="#ef5350" stroke-width="0.9"/><path d="M531.2 323.9V331.7" stroke="#ef5350" stroke-width="0.5"/><path d="M531.2 325.7V330.3" stroke="#ef5350" stroke-width="0.9"/><path d="M532.0 328.4V333.3" stroke="#ef5350" stroke-width="0.5"/><path d="M532.0 330.3V331.6" stroke="#ef5350" stroke-width="0.9"/><path d="M532.8 327.3V333.3" stroke="#26a69a" stroke-width="0.5"/><path d="M532.8 331.0V331.8" stroke="#26a69a" stroke-width="0.9"/><path d="M533.5 328.2V333.3" stroke="#26a69a" stroke-width="0.5"/><path d="M533.5 328.5V331.0" stroke="#26a69a" stroke-width="0.9"/><path d="M534.2 323.7V329.4" stroke="#26a69a" stroke-width="0.5"/><path d="M534.2 324.4V328.5" stroke="#26a69a" stroke-width="0.9"/><path d="M535.0 322.7V324.9" stroke="#26a69a" stroke-width="0.5"/><path d="M535.0 323.0V324.4" stroke="#26a69a" stroke-width="0.9"/><path d="M535.8 322.1V324.3" stroke="#26a69a" stroke-width="0.5"/><path d="M535.8 322.8V323.6" stroke="#26a69a" stroke-width="0.9"/><path d="M536.5 321.9V328.0" stroke="#ef5350" stroke-width="0.5"/><path d="M536.5 322.8V324.1" stroke="#ef5350" stroke-width="0.9"/><path d="M537.2 322.7V330.1" stroke="#ef5350" stroke-width="0.5"/><path d="M537.2 324.1V327.2" stroke="#ef5350" stroke-width="0.9"/><path d="M538.0 326.5V330.0" stroke="#ef5350" stroke-width="0.5"/><path d="M538.0 327.2V329.2" stroke="#ef5350" stroke-width="0.9"/><path d="M538.8 326.3V331.6" stroke="#ef5350" stroke-width="0.5"/><path d="M538.8 329.2V330.0" stroke="#ef5350" stroke-width="0.9"/><path d="M539.5 323.7V331.1" stroke="#26a69a" stroke-width="0.5"/><path d="M539.5 327.5V329.6" stroke="#26a69a" stroke-width="0.9"/><path d="M540.2 324.7V329.8" stroke="#ef5350" stroke-width="0.5"/><path d="M540.2 327.5V328.3" stroke="#ef5350" stroke-width="0.9"/><path d="M541.0 325.7V329.8" stroke="#26a69a" stroke-width="0.5"/><path d="M541.0 326.0V328.3" stroke="#26a69a" stroke-width="0.9"/><path d="M541.8 316.3V329.1" stroke="#26a69a" stroke-width="0.5"/><path d="M541.8 319.8V326.0" stroke="#26a69a" stroke-width="0.9"/><path d="M542.5 313.7V321.6" stroke="#26a69a" stroke-width="0.5"/><path d="M542.5 317.9V319.8" stroke="#26a69a" stroke-width="0.9"/><path d="M543.2 315.3V318.8" stroke="#26a69a" stroke-width="0.5"/><path d="M543.2 315.9V317.9" stroke="#26a69a" stroke-width="0.9"/><path d="M544.0 311.8V316.3" stroke="#26a69a" stroke-width="0.5"/><path d="M544.0 314.0V315.9" stroke="#26a69a" stroke-width="0.9"/><path d="M544.8 312.0V319.5" stroke="#ef5350" stroke-width="0.5"/><path d="M544.8 314.0V315.4" stroke="#ef5350" stroke-width="0.9"/><path d="M545.5 312.6V318.3" stroke="#ef5350" stroke-width="0.5"/><path d="M545.5 315.4V317.6" stroke="#ef5350" stroke-width="0.9"/><path d="M546.2 317.2V320.1" stroke="#ef5350" stroke-width="0.5"/><path d="M546.2 317.6V318.8" stroke="#ef5350" stroke-width="0.9"/><path d="M547.0 306.6V320.3" stroke="#26a69a" stroke-width="0.5"/><path d="M547.0 314.9V318.8" stroke="#26a69a" stroke-width="0.9"/><path d="M547.8 300.8V315.3" stroke="#26a69a" stroke-width="0.5"/><path d="M547.8 309.8V314.9" stroke="#26a69a" stroke-width="0.9"/><path d="M548.5 292.7V316.7" stroke="#26a69a" stroke-width="0.5"/><path d="M548.5 303.5V309.8" stroke="#26a69a" stroke-width="0.9"/><path d="M549.2 292.7V304.1" stroke="#26a69a" stroke-width="0.5"/><path d="M549.2 295.4V303.5" stroke="#26a69a" stroke-width="0.9"/><path d="M550.0 294.9V306.7" stroke="#ef5350" stroke-width="0.5"/><path d="M550.0 295.4V302.7" stroke="#ef5350" stroke-width="0.9"/><path d="M550.8 292.8V318.1" stroke="#ef5350" stroke-width="0.5"/><path d="M550.8 302.7V311.5" stroke="#ef5350" stroke-width="0.9"/><path d="M551.5 294.6V313.5" stroke="#26a69a" stroke-width="0.5"/><path d="M551.5 299.2V311.5" stroke="#26a69a" stroke-width="0.9"/><path d="M552.2 295.3V319.0" stroke="#ef5350" stroke-width="0.5"/><path d="M552.2 299.2V314.9" stroke="#ef5350" stroke-width="0.9"/><path d="M553.0 313.6V318.1" stroke="#26a69a" stroke-width="0.5"/><path d="M553.0 314.2V315.0" stroke="#26a69a" stroke-width="0.9"/><path d="M553.8 309.7V317.6" stroke="#26a69a" stroke-width="0.5"/><path d="M553.8 310.1V314.2" stroke="#26a69a" stroke-width="0.9"/><path d="M554.5 306.5V313.1" stroke="#26a69a" stroke-width="0.5"/><path d="M554.5 307.4V310.1" stroke="#26a69a" stroke-width="0.9"/><path d="M555.2 303.2V310.0" stroke="#26a69a" stroke-width="0.5"/><path d="M555.2 306.3V307.4" stroke="#26a69a" stroke-width="0.9"/><path d="M556.0 304.7V308.5" stroke="#ef5350" stroke-width="0.5"/><path d="M556.0 306.3V307.1" stroke="#ef5350" stroke-width="0.9"/><path d="M556.8 305.7V309.5" stroke="#ef5350" stroke-width="0.5"/><path d="M556.8 307.1V307.9" stroke="#ef5350" stroke-width="0.9"/><path d="M557.5 305.7V313.1" stroke="#ef5350" stroke-width="0.5"/><path d="M557.5 307.8V311.2" stroke="#ef5350" stroke-width="0.9"/><path d="M558.2 308.0V312.4" stroke="#26a69a" stroke-width="0.5"/><path d="M558.2 310.8V311.6" stroke="#26a69a" stroke-width="0.9"/><path d="M559.0 308.3V316.3" stroke="#ef5350" stroke-width="0.5"/><path d="M559.0 310.8V316.0" stroke="#ef5350" stroke-width="0.9"/><path d="M559.8 314.4V316.3" stroke="#26a69a" stroke-width="0.5"/><path d="M559.8 315.5V316.3" stroke="#26a69a" stroke-width="0.9"/><path d="M560.5 310.4V316.3" stroke="#26a69a" stroke-width="0.5"/><path d="M560.5 313.9V315.5" stroke="#26a69a" stroke-width="0.9"/><path d="M561.2 305.4V314.8" stroke="#26a69a" stroke-width="0.5"/><path d="M561.2 306.3V313.9" stroke="#26a69a" stroke-width="0.9"/><path d="M562.0 302.7V307.4" stroke="#26a69a" stroke-width="0.5"/><path d="M562.0 304.9V306.3" stroke="#26a69a" stroke-width="0.9"/><path d="M562.8 302.7V307.8" stroke="#26a69a" stroke-width="0.5"/><path d="M562.8 304.3V305.1" stroke="#26a69a" stroke-width="0.9"/><path d="M563.5 302.7V309.7" stroke="#ef5350" stroke-width="0.5"/><path d="M563.5 304.3V308.7" stroke="#ef5350" stroke-width="0.9"/><path d="M564.2 308.0V314.1" stroke="#ef5350" stroke-width="0.5"/><path d="M564.2 308.7V311.4" stroke="#ef5350" stroke-width="0.9"/><path d="M565.0 302.7V317.4" stroke="#26a69a" stroke-width="0.5"/><path d="M565.0 309.2V311.4" stroke="#26a69a" stroke-width="0.9"/><path d="M565.8 307.6V317.9" stroke="#ef5350" stroke-width="0.5"/><path d="M565.8 309.2V315.6" stroke="#ef5350" stroke-width="0.9"/><path d="M566.5 302.7V319.3" stroke="#ef5350" stroke-width="0.5"/><path d="M566.5 315.6V317.9" stroke="#ef5350" stroke-width="0.9"/><path d="M567.2 310.4V325.5" stroke="#26a69a" stroke-width="0.5"/><path d="M567.2 317.3V318.1" stroke="#26a69a" stroke-width="0.9"/><path d="M568.0 316.6V318.1" stroke="#ef5350" stroke-width="0.5"/><path d="M568.0 317.3V318.1" stroke="#ef5350" stroke-width="0.9"/><path d="M568.8 312.4V330.0" stroke="#ef5350" stroke-width="0.5"/><path d="M568.8 317.3V320.7" stroke="#ef5350" stroke-width="0.9"/><path d="M569.5 313.8V321.8" stroke="#26a69a" stroke-width="0.5"/><path d="M569.5 315.1V320.7" stroke="#26a69a" stroke-width="0.9"/><path d="M570.2 310.6V329.3" stroke="#ef5350" stroke-width="0.5"/><path d="M570.2 315.1V315.9" stroke="#ef5350" stroke-width="0.9"/><path d="M571.0 302.9V326.3" stroke="#26a69a" stroke-width="0.5"/><path d="M571.0 312.5V315.7" stroke="#26a69a" stroke-width="0.9"/><path d="M571.8 299.8V323.3" stroke="#26a69a" stroke-width="0.5"/><path d="M571.8 300.3V312.5" stroke="#26a69a" stroke-width="0.9"/><path d="M572.5 274.0V315.0" stroke="#26a69a" stroke-width="0.5"/><path d="M572.5 276.2V300.3" stroke="#26a69a" stroke-width="0.9"/><path d="M573.2 268.7V286.3" stroke="#ef5350" stroke-width="0.5"/><path d="M573.2 276.2V285.4" stroke="#ef5350" stroke-width="0.9"/><path d="M574.0 276.7V285.7" stroke="#26a69a" stroke-width="0.5"/><path d="M574.0 277.1V285.4" stroke="#26a69a" stroke-width="0.9"/><path d="M574.8 269.7V285.6" stroke="#ef5350" stroke-width="0.5"/><path d="M574.8 277.1V282.8" stroke="#ef5350" stroke-width="0.9"/><path d="M575.5 280.6V293.3" stroke="#ef5350" stroke-width="0.5"/><path d="M575.5 282.8V289.8" stroke="#ef5350" stroke-width="0.9"/><path d="M576.2 286.5V290.9" stroke="#ef5350" stroke-width="0.5"/><path d="M576.2 289.8V290.6" stroke="#ef5350" stroke-width="0.9"/><path d="M577.0 288.1V291.5" stroke="#26a69a" stroke-width="0.5"/><path d="M577.0 289.0V289.9" stroke="#26a69a" stroke-width="0.9"/><path d="M577.8 287.1V293.2" stroke="#ef5350" stroke-width="0.5"/><path d="M577.8 289.0V289.8" stroke="#ef5350" stroke-width="0.9"/><path d="M578.5 288.7V290.9" stroke="#ef5350" stroke-width="0.5"/><path d="M578.5 289.0V289.8" stroke="#ef5350" stroke-width="0.9"/><path d="M579.2 286.7V289.8" stroke="#26a69a" stroke-width="0.5"/><path d="M579.2 289.2V290.0" stroke="#26a69a" stroke-width="0.9"/><path d="M580.0 287.9V291.3" stroke="#ef5350" stroke-width="0.5"/><path d="M580.0 289.2V290.9" stroke="#ef5350" stroke-width="0.9"/><path d="M580.8 289.5V294.3" stroke="#ef5350" stroke-width="0.5"/><path d="M580.8 290.9V291.7" stroke="#ef5350" stroke-width="0.9"/><path d="M581.5 288.6V294.3" stroke="#26a69a" stroke-width="0.5"/><path d="M581.5 290.4V291.6" stroke="#26a69a" stroke-width="0.9"/><path d="M582.2 285.7V293.8" stroke="#26a69a" stroke-width="0.5"/><path d="M582.2 286.2V290.4" stroke="#26a69a" stroke-width="0.9"/><path d="M583.0 283.6V286.5" stroke="#26a69a" stroke-width="0.5"/><path d="M583.0 284.3V286.2" stroke="#26a69a" stroke-width="0.9"/><path d="M583.8 282.6V288.2" stroke="#ef5350" stroke-width="0.5"/><path d="M583.8 284.3V285.1" stroke="#ef5350" stroke-width="0.9"/><path d="M584.5 279.7V286.6" stroke="#26a69a" stroke-width="0.5"/><path d="M584.5 282.9V285.1" stroke="#26a69a" stroke-width="0.9"/><path d="M585.2 280.5V285.4" stroke="#ef5350" stroke-width="0.5"/><path d="M585.2 282.9V284.6" stroke="#ef5350" stroke-width="0.9"/><path d="M586.0 278.6V287.7" stroke="#26a69a" stroke-width="0.5"/><path d="M586.0 283.4V284.6" stroke="#26a69a" stroke-width="0.9"/><path d="M586.8 279.3V288.8" stroke="#ef5350" stroke-width="0.5"/><path d="M586.8 283.4V284.3" stroke="#ef5350" stroke-width="0.9"/><path d="M587.5 276.9V289.7" stroke="#ef5350" stroke-width="0.5"/><path d="M587.5 284.3V287.5" stroke="#ef5350" stroke-width="0.9"/><path d="M588.2 279.9V290.6" stroke="#26a69a" stroke-width="0.5"/><path d="M588.2 281.2V287.5" stroke="#26a69a" stroke-width="0.9"/><path d="M589.0 280.0V282.3" stroke="#26a69a" stroke-width="0.5"/><path d="M589.0 280.7V281.5" stroke="#26a69a" stroke-width="0.9"/><path d="M589.8 268.9V282.9" stroke="#26a69a" stroke-width="0.5"/><path d="M589.8 274.0V280.7" stroke="#26a69a" stroke-width="0.9"/><path d="M590.5 271.9V277.0" stroke="#ef5350" stroke-width="0.5"/><path d="M590.5 274.0V274.8" stroke="#ef5350" stroke-width="0.9"/><path d="M591.2 268.9V276.8" stroke="#26a69a" stroke-width="0.5"/><path d="M591.2 272.6V274.7" stroke="#26a69a" stroke-width="0.9"/><path d="M592.0 271.1V275.7" stroke="#ef5350" stroke-width="0.5"/><path d="M592.0 272.6V274.9" stroke="#ef5350" stroke-width="0.9"/><path d="M592.8 273.3V279.0" stroke="#ef5350" stroke-width="0.5"/><path d="M592.8 274.9V277.7" stroke="#ef5350" stroke-width="0.9"/><path d="M593.5 272.5V280.3" stroke="#ef5350" stroke-width="0.5"/><path d="M593.5 277.7V280.0" stroke="#ef5350" stroke-width="0.9"/><path d="M594.2 273.4V281.4" stroke="#26a69a" stroke-width="0.5"/><path d="M594.2 276.1V280.0" stroke="#26a69a" stroke-width="0.9"/><path d="M595.0 263.2V276.9" stroke="#26a69a" stroke-width="0.5"/><path d="M595.0 271.6V276.1" stroke="#26a69a" stroke-width="0.9"/><path d="M595.8 263.9V278.8" stroke="#26a69a" stroke-width="0.5"/><path d="M595.8 268.1V271.6" stroke="#26a69a" stroke-width="0.9"/><path d="M596.5 261.1V270.8" stroke="#26a69a" stroke-width="0.5"/><path d="M596.5 264.2V268.1" stroke="#26a69a" stroke-width="0.9"/><path d="M597.2 257.7V271.1" stroke="#26a69a" stroke-width="0.5"/><path d="M597.2 262.4V264.2" stroke="#26a69a" stroke-width="0.9"/><path d="M598.0 261.7V262.9" stroke="#ef5350" stroke-width="0.5"/><path d="M598.0 262.4V263.2" stroke="#ef5350" stroke-width="0.9"/><path d="M598.8 258.6V266.3" stroke="#ef5350" stroke-width="0.5"/><path d="M598.8 262.4V263.2" stroke="#ef5350" stroke-width="0.9"/><path d="M599.5 259.5V267.6" stroke="#ef5350" stroke-width="0.5"/><path d="M599.5 263.0V265.0" stroke="#ef5350" stroke-width="0.9"/><path d="M600.2 261.6V274.2" stroke="#ef5350" stroke-width="0.5"/><path d="M600.2 265.0V271.2" stroke="#ef5350" stroke-width="0.9"/><path d="M601.0 270.7V275.3" stroke="#ef5350" stroke-width="0.5"/><path d="M601.0 271.2V275.0" stroke="#ef5350" stroke-width="0.9"/><path d="M601.8 253.9V275.3" stroke="#26a69a" stroke-width="0.5"/><path d="M601.8 263.4V275.0" stroke="#26a69a" stroke-width="0.9"/><path d="M602.5 255.8V275.3" stroke="#26a69a" stroke-width="0.5"/><path d="M602.5 256.6V263.4" stroke="#26a69a" stroke-width="0.9"/><path d="M603.2 225.4V256.9" stroke="#26a69a" stroke-width="0.5"/><path d="M603.2 247.9V256.6" stroke="#26a69a" stroke-width="0.9"/><path d="M604.0 216.4V265.6" stroke="#ef5350" stroke-width="0.5"/><path d="M604.0 247.9V260.5" stroke="#ef5350" stroke-width="0.9"/><path d="M604.8 183.7V262.3" stroke="#26a69a" stroke-width="0.5"/><path d="M604.8 227.2V260.5" stroke="#26a69a" stroke-width="0.9"/><path d="M605.5 198.4V232.6" stroke="#26a69a" stroke-width="0.5"/><path d="M605.5 201.0V227.2" stroke="#26a69a" stroke-width="0.9"/><path d="M606.2 179.8V212.4" stroke="#26a69a" stroke-width="0.5"/><path d="M606.2 190.6V201.0" stroke="#26a69a" stroke-width="0.9"/><path d="M607.0 181.6V213.6" stroke="#ef5350" stroke-width="0.5"/><path d="M607.0 190.6V211.1" stroke="#ef5350" stroke-width="0.9"/><path d="M607.8 170.2V228.4" stroke="#26a69a" stroke-width="0.5"/><path d="M607.8 191.6V211.1" stroke="#26a69a" stroke-width="0.9"/><path d="M608.5 189.6V220.0" stroke="#ef5350" stroke-width="0.5"/><path d="M608.5 191.6V206.1" stroke="#ef5350" stroke-width="0.9"/><path d="M609.2 188.9V219.8" stroke="#26a69a" stroke-width="0.5"/><path d="M609.2 197.2V206.1" stroke="#26a69a" stroke-width="0.9"/><path d="M610.0 169.0V197.8" stroke="#26a69a" stroke-width="0.5"/><path d="M610.0 181.7V197.2" stroke="#26a69a" stroke-width="0.9"/><path d="M610.8 178.1V183.4" stroke="#26a69a" stroke-width="0.5"/><path d="M610.8 178.4V181.7" stroke="#26a69a" stroke-width="0.9"/><path d="M611.5 168.7V179.3" stroke="#26a69a" stroke-width="0.5"/><path d="M611.5 172.3V178.4" stroke="#26a69a" stroke-width="0.9"/><path d="M612.2 169.8V188.5" stroke="#ef5350" stroke-width="0.5"/><path d="M612.2 172.3V186.8" stroke="#ef5350" stroke-width="0.9"/><path d="M613.0 173.8V188.9" stroke="#26a69a" stroke-width="0.5"/><path d="M613.0 181.8V186.8" stroke="#26a69a" stroke-width="0.9"/><path d="M613.8 179.7V207.9" stroke="#ef5350" stroke-width="0.5"/><path d="M613.8 181.8V188.0" stroke="#ef5350" stroke-width="0.9"/><path d="M614.5 184.1V226.4" stroke="#ef5350" stroke-width="0.5"/><path d="M614.5 188.0V203.3" stroke="#ef5350" stroke-width="0.9"/><path d="M615.2 169.9V238.9" stroke="#26a69a" stroke-width="0.5"/><path d="M615.2 191.1V203.3" stroke="#26a69a" stroke-width="0.9"/><path d="M616.0 186.7V218.3" stroke="#ef5350" stroke-width="0.5"/><path d="M616.0 191.1V196.9" stroke="#ef5350" stroke-width="0.9"/><path d="M616.8 172.0V262.8" stroke="#ef5350" stroke-width="0.5"/><path d="M616.8 196.9V221.3" stroke="#ef5350" stroke-width="0.9"/><path d="M617.5 208.5V253.0" stroke="#ef5350" stroke-width="0.5"/><path d="M617.5 221.3V242.2" stroke="#ef5350" stroke-width="0.9"/><path d="M618.2 235.1V243.5" stroke="#26a69a" stroke-width="0.5"/><path d="M618.2 237.7V242.2" stroke="#26a69a" stroke-width="0.9"/><path d="M619.0 210.1V241.5" stroke="#26a69a" stroke-width="0.5"/><path d="M619.0 221.1V237.7" stroke="#26a69a" stroke-width="0.9"/><path d="M619.8 220.3V226.6" stroke="#ef5350" stroke-width="0.5"/><path d="M619.8 221.1V226.1" stroke="#ef5350" stroke-width="0.9"/><path d="M620.5 213.2V232.8" stroke="#26a69a" stroke-width="0.5"/><path d="M620.5 214.2V226.1" stroke="#26a69a" stroke-width="0.9"/><path d="M621.2 208.0V234.7" stroke="#ef5350" stroke-width="0.5"/><path d="M621.2 214.2V224.8" stroke="#ef5350" stroke-width="0.9"/><path d="M622.0 217.0V229.9" stroke="#26a69a" stroke-width="0.5"/><path d="M622.0 219.0V224.8" stroke="#26a69a" stroke-width="0.9"/><path d="M622.8 205.6V222.0" stroke="#26a69a" stroke-width="0.5"/><path d="M622.8 214.1V219.0" stroke="#26a69a" stroke-width="0.9"/><path d="M623.5 202.2V216.0" stroke="#26a69a" stroke-width="0.5"/><path d="M623.5 208.0V214.1" stroke="#26a69a" stroke-width="0.9"/><path d="M624.2 205.0V211.7" stroke="#26a69a" stroke-width="0.5"/><path d="M624.2 205.8V208.0" stroke="#26a69a" stroke-width="0.9"/><path d="M625.0 197.9V206.3" stroke="#26a69a" stroke-width="0.5"/><path d="M625.0 201.3V205.8" stroke="#26a69a" stroke-width="0.9"/><path d="M625.8 197.9V203.3" stroke="#26a69a" stroke-width="0.5"/><path d="M625.8 198.4V201.3" stroke="#26a69a" stroke-width="0.9"/><path d="M626.5 197.3V210.1" stroke="#ef5350" stroke-width="0.5"/><path d="M626.5 198.4V209.0" stroke="#ef5350" stroke-width="0.9"/><path d="M627.2 190.7V214.1" stroke="#26a69a" stroke-width="0.5"/><path d="M627.2 192.4V209.0" stroke="#26a69a" stroke-width="0.9"/><path d="M628.0 187.7V212.8" stroke="#ef5350" stroke-width="0.5"/><path d="M628.0 192.4V200.4" stroke="#ef5350" stroke-width="0.9"/><path d="M628.8 190.8V201.7" stroke="#ef5350" stroke-width="0.5"/><path d="M628.8 200.4V201.2" stroke="#ef5350" stroke-width="0.9"/><path d="M629.5 184.7V206.2" stroke="#26a69a" stroke-width="0.5"/><path d="M629.5 187.1V200.7" stroke="#26a69a" stroke-width="0.9"/><path d="M630.2 183.8V195.1" stroke="#ef5350" stroke-width="0.5"/><path d="M630.2 187.1V193.6" stroke="#ef5350" stroke-width="0.9"/><path d="M631.0 170.1V201.1" stroke="#26a69a" stroke-width="0.5"/><path d="M631.0 183.5V193.6" stroke="#26a69a" stroke-width="0.9"/><path d="M631.8 165.9V199.4" stroke="#26a69a" stroke-width="0.5"/><path d="M631.8 180.5V183.5" stroke="#26a69a" stroke-width="0.9"/><path d="M632.5 173.2V184.7" stroke="#26a69a" stroke-width="0.5"/><path d="M632.5 177.1V180.5" stroke="#26a69a" stroke-width="0.9"/><path d="M633.2 158.8V186.3" stroke="#26a69a" stroke-width="0.5"/><path d="M633.2 163.8V177.1" stroke="#26a69a" stroke-width="0.9"/><path d="M634.0 153.7V180.7" stroke="#ef5350" stroke-width="0.5"/><path d="M634.0 163.8V169.1" stroke="#ef5350" stroke-width="0.9"/><path d="M634.8 165.1V187.6" stroke="#ef5350" stroke-width="0.5"/><path d="M634.8 169.1V174.9" stroke="#ef5350" stroke-width="0.9"/><path d="M635.5 166.6V185.1" stroke="#ef5350" stroke-width="0.5"/><path d="M635.5 174.9V176.4" stroke="#ef5350" stroke-width="0.9"/><path d="M636.2 168.1V181.6" stroke="#26a69a" stroke-width="0.5"/><path d="M636.2 173.6V176.4" stroke="#26a69a" stroke-width="0.9"/><path d="M637.0 162.7V189.9" stroke="#ef5350" stroke-width="0.5"/><path d="M637.0 173.6V177.2" stroke="#ef5350" stroke-width="0.9"/><path d="M637.8 159.6V177.6" stroke="#26a69a" stroke-width="0.5"/><path d="M637.8 163.6V177.2" stroke="#26a69a" stroke-width="0.9"/><path d="M638.5 158.0V192.0" stroke="#ef5350" stroke-width="0.5"/><path d="M638.5 163.6V176.6" stroke="#ef5350" stroke-width="0.9"/><path d="M639.2 162.4V181.6" stroke="#26a69a" stroke-width="0.5"/><path d="M639.2 175.2V176.6" stroke="#26a69a" stroke-width="0.9"/><path d="M640.0 171.0V200.0" stroke="#ef5350" stroke-width="0.5"/><path d="M640.0 175.2V177.6" stroke="#ef5350" stroke-width="0.9"/><path d="M640.8 170.7V194.7" stroke="#ef5350" stroke-width="0.5"/><path d="M640.8 177.6V193.3" stroke="#ef5350" stroke-width="0.9"/><path d="M641.5 189.9V200.3" stroke="#26a69a" stroke-width="0.5"/><path d="M641.5 190.4V193.3" stroke="#26a69a" stroke-width="0.9"/><path d="M642.2 156.6V196.6" stroke="#26a69a" stroke-width="0.5"/><path d="M642.2 165.4V190.4" stroke="#26a69a" stroke-width="0.9"/><path d="M643.0 162.7V192.8" stroke="#ef5350" stroke-width="0.5"/><path d="M643.0 165.4V179.8" stroke="#ef5350" stroke-width="0.9"/><path d="M643.8 148.6V182.2" stroke="#26a69a" stroke-width="0.5"/><path d="M643.8 169.6V179.8" stroke="#26a69a" stroke-width="0.9"/><path d="M644.5 147.4V171.1" stroke="#26a69a" stroke-width="0.5"/><path d="M644.5 159.8V169.6" stroke="#26a69a" stroke-width="0.9"/><path d="M645.2 157.9V177.2" stroke="#ef5350" stroke-width="0.5"/><path d="M645.2 159.8V163.4" stroke="#ef5350" stroke-width="0.9"/><path d="M646.0 138.0V163.7" stroke="#26a69a" stroke-width="0.5"/><path d="M646.0 140.1V163.4" stroke="#26a69a" stroke-width="0.9"/><path d="M646.8 131.3V146.6" stroke="#26a69a" stroke-width="0.5"/><path d="M646.8 135.8V140.1" stroke="#26a69a" stroke-width="0.9"/><path d="M647.5 131.5V154.4" stroke="#ef5350" stroke-width="0.5"/><path d="M647.5 135.8V147.4" stroke="#ef5350" stroke-width="0.9"/><path d="M648.2 139.1V148.1" stroke="#26a69a" stroke-width="0.5"/><path d="M648.2 143.4V147.4" stroke="#26a69a" stroke-width="0.9"/><path d="M649.0 131.8V144.5" stroke="#26a69a" stroke-width="0.5"/><path d="M649.0 136.2V143.4" stroke="#26a69a" stroke-width="0.9"/><path d="M649.8 129.7V149.4" stroke="#ef5350" stroke-width="0.5"/><path d="M649.8 136.2V142.6" stroke="#ef5350" stroke-width="0.9"/><path d="M650.5 141.5V152.0" stroke="#26a69a" stroke-width="0.5"/><path d="M650.5 141.9V142.7" stroke="#26a69a" stroke-width="0.9"/><path d="M651.2 136.2V145.8" stroke="#ef5350" stroke-width="0.5"/><path d="M651.2 141.9V144.9" stroke="#ef5350" stroke-width="0.9"/><path d="M652.0 124.3V146.1" stroke="#26a69a" stroke-width="0.5"/><path d="M652.0 125.8V144.9" stroke="#26a69a" stroke-width="0.9"/><path d="M652.8 123.7V126.5" stroke="#26a69a" stroke-width="0.5"/><path d="M652.8 124.9V125.8" stroke="#26a69a" stroke-width="0.9"/><path d="M653.5 123.7V131.0" stroke="#ef5350" stroke-width="0.5"/><path d="M653.5 124.9V128.0" stroke="#ef5350" stroke-width="0.9"/><path d="M654.2 123.7V139.1" stroke="#ef5350" stroke-width="0.5"/><path d="M654.2 128.0V137.6" stroke="#ef5350" stroke-width="0.9"/><path d="M655.0 132.6V153.6" stroke="#ef5350" stroke-width="0.5"/><path d="M655.0 137.6V149.4" stroke="#ef5350" stroke-width="0.9"/><path d="M655.8 143.8V159.7" stroke="#ef5350" stroke-width="0.5"/><path d="M655.8 149.4V158.1" stroke="#ef5350" stroke-width="0.9"/><path d="M656.5 155.5V165.4" stroke="#ef5350" stroke-width="0.5"/><path d="M656.5 158.1V159.5" stroke="#ef5350" stroke-width="0.9"/><path d="M657.2 138.3V174.0" stroke="#26a69a" stroke-width="0.5"/><path d="M657.2 148.3V159.5" stroke="#26a69a" stroke-width="0.9"/><path d="M658.0 108.6V165.6" stroke="#26a69a" stroke-width="0.5"/><path d="M658.0 135.3V148.3" stroke="#26a69a" stroke-width="0.9"/><path d="M658.8 91.8V148.2" stroke="#26a69a" stroke-width="0.5"/><path d="M658.8 112.2V135.3" stroke="#26a69a" stroke-width="0.9"/><path d="M659.5 92.5V129.1" stroke="#26a69a" stroke-width="0.5"/><path d="M659.5 108.6V112.2" stroke="#26a69a" stroke-width="0.9"/><path d="M660.2 76.4V128.8" stroke="#26a69a" stroke-width="0.5"/><path d="M660.2 106.5V108.6" stroke="#26a69a" stroke-width="0.9"/><path d="M661.0 96.0V114.2" stroke="#26a69a" stroke-width="0.5"/><path d="M661.0 100.7V106.5" stroke="#26a69a" stroke-width="0.9"/><path d="M661.8 89.4V107.2" stroke="#ef5350" stroke-width="0.5"/><path d="M661.8 100.7V102.9" stroke="#ef5350" stroke-width="0.9"/><path d="M662.5 76.1V113.6" stroke="#26a69a" stroke-width="0.5"/><path d="M662.5 76.7V102.9" stroke="#26a69a" stroke-width="0.9"/><path d="M663.2 59.3V91.0" stroke="#26a69a" stroke-width="0.5"/><path d="M663.2 74.0V76.7" stroke="#26a69a" stroke-width="0.9"/><path d="M664.0 67.1V90.1" stroke="#ef5350" stroke-width="0.5"/><path d="M664.0 74.0V87.9" stroke="#ef5350" stroke-width="0.9"/><path d="M664.8 51.7V94.0" stroke="#26a69a" stroke-width="0.5"/><path d="M664.8 59.6V87.9" stroke="#26a69a" stroke-width="0.9"/><path d="M665.5 52.0V72.6" stroke="#ef5350" stroke-width="0.5"/><path d="M665.5 59.6V71.8" stroke="#ef5350" stroke-width="0.9"/><path d="M666.2 54.5V79.6" stroke="#26a69a" stroke-width="0.5"/><path d="M666.2 59.2V71.8" stroke="#26a69a" stroke-width="0.9"/><path d="M667.0 51.7V73.1" stroke="#ef5350" stroke-width="0.5"/><path d="M667.0 59.2V61.7" stroke="#ef5350" stroke-width="0.9"/><path d="M667.8 58.7V69.0" stroke="#26a69a" stroke-width="0.5"/><path d="M667.8 61.3V62.1" stroke="#26a69a" stroke-width="0.9"/><path d="M668.5 56.2V75.1" stroke="#ef5350" stroke-width="0.5"/><path d="M668.5 61.3V71.5" stroke="#ef5350" stroke-width="0.9"/><path d="M669.2 60.1V80.3" stroke="#26a69a" stroke-width="0.5"/><path d="M669.2 70.1V71.5" stroke="#26a69a" stroke-width="0.9"/><path d="M670.0 69.8V86.3" stroke="#ef5350" stroke-width="0.5"/><path d="M670.0 70.1V78.6" stroke="#ef5350" stroke-width="0.9"/><path d="M670.8 75.1V88.9" stroke="#ef5350" stroke-width="0.5"/><path d="M670.8 78.6V82.1" stroke="#ef5350" stroke-width="0.9"/><path d="M671.5 61.7V90.9" stroke="#26a69a" stroke-width="0.5"/><path d="M671.5 68.0V82.1" stroke="#26a69a" stroke-width="0.9"/><path d="M672.2 63.2V106.7" stroke="#ef5350" stroke-width="0.5"/><path d="M672.2 68.0V89.4" stroke="#ef5350" stroke-width="0.9"/><path d="M673.0 83.9V104.8" stroke="#26a69a" stroke-width="0.5"/><path d="M673.0 88.4V89.4" stroke="#26a69a" stroke-width="0.9"/><path d="M673.8 67.7V90.8" stroke="#ef5350" stroke-width="0.5"/><path d="M673.8 88.4V89.7" stroke="#ef5350" stroke-width="0.9"/><path d="M674.5 78.5V124.9" stroke="#ef5350" stroke-width="0.5"/><path d="M674.5 89.7V117.8" stroke="#ef5350" stroke-width="0.9"/><path d="M675.2 117.0V121.3" stroke="#ef5350" stroke-width="0.5"/><path d="M675.2 117.8V118.8" stroke="#ef5350" stroke-width="0.9"/><path d="M676.0 109.8V119.3" stroke="#26a69a" stroke-width="0.5"/><path d="M676.0 114.4V118.8" stroke="#26a69a" stroke-width="0.9"/><path d="M676.8 107.6V117.8" stroke="#26a69a" stroke-width="0.5"/><path d="M676.8 109.8V114.4" stroke="#26a69a" stroke-width="0.9"/><path d="M677.5 101.4V115.8" stroke="#ef5350" stroke-width="0.5"/><path d="M677.5 109.8V111.7" stroke="#ef5350" stroke-width="0.9"/><path d="M678.2 89.7V113.3" stroke="#26a69a" stroke-width="0.5"/><path d="M678.2 90.8V111.7" stroke="#26a69a" stroke-width="0.9"/><path d="M679.0 89.7V132.9" stroke="#ef5350" stroke-width="0.5"/><path d="M679.0 90.8V106.3" stroke="#ef5350" stroke-width="0.9"/><path d="M679.8 105.5V180.4" stroke="#ef5350" stroke-width="0.5"/><path d="M679.8 106.3V156.2" stroke="#ef5350" stroke-width="0.9"/><path d="M680.5 107.9V214.0" stroke="#ef5350" stroke-width="0.5"/><path d="M680.5 156.2V180.0" stroke="#ef5350" stroke-width="0.9"/><path d="M681.2 178.3V182.9" stroke="#26a69a" stroke-width="0.5"/><path d="M681.2 180.0V180.8" stroke="#26a69a" stroke-width="0.9"/><path d="M682.0 170.9V190.2" stroke="#26a69a" stroke-width="0.5"/><path d="M682.0 172.7V180.0" stroke="#26a69a" stroke-width="0.9"/><path d="M682.8 146.5V186.0" stroke="#26a69a" stroke-width="0.5"/><path d="M682.8 165.1V172.7" stroke="#26a69a" stroke-width="0.9"/><path d="M683.5 148.7V179.1" stroke="#ef5350" stroke-width="0.5"/><path d="M683.5 165.1V166.3" stroke="#ef5350" stroke-width="0.9"/><path d="M684.2 137.1V174.3" stroke="#26a69a" stroke-width="0.5"/><path d="M684.2 159.1V166.3" stroke="#26a69a" stroke-width="0.9"/><path d="M685.0 126.4V168.1" stroke="#26a69a" stroke-width="0.5"/><path d="M685.0 134.7V159.1" stroke="#26a69a" stroke-width="0.9"/><path d="M685.8 122.5V150.5" stroke="#ef5350" stroke-width="0.5"/><path d="M685.8 134.7V148.5" stroke="#ef5350" stroke-width="0.9"/><path d="M686.5 111.9V155.2" stroke="#26a69a" stroke-width="0.5"/><path d="M686.5 137.5V148.5" stroke="#26a69a" stroke-width="0.9"/><path d="M687.2 117.5V141.8" stroke="#26a69a" stroke-width="0.5"/><path d="M687.2 119.0V137.5" stroke="#26a69a" stroke-width="0.9"/><path d="M688.0 110.2V143.7" stroke="#ef5350" stroke-width="0.5"/><path d="M688.0 119.0V136.6" stroke="#ef5350" stroke-width="0.9"/><path d="M688.8 120.4V142.2" stroke="#26a69a" stroke-width="0.5"/><path d="M688.8 121.6V136.6" stroke="#26a69a" stroke-width="0.9"/><path d="M689.5 110.4V136.3" stroke="#ef5350" stroke-width="0.5"/><path d="M689.5 121.6V123.0" stroke="#ef5350" stroke-width="0.9"/><path d="M690.2 110.0V138.2" stroke="#26a69a" stroke-width="0.5"/><path d="M690.2 119.7V123.0" stroke="#26a69a" stroke-width="0.9"/><path d="M691.0 114.2V133.9" stroke="#ef5350" stroke-width="0.5"/><path d="M691.0 119.7V121.0" stroke="#ef5350" stroke-width="0.9"/><path d="M691.8 112.8V142.8" stroke="#ef5350" stroke-width="0.5"/><path d="M691.8 121.0V124.0" stroke="#ef5350" stroke-width="0.9"/><path d="M692.5 121.3V168.6" stroke="#ef5350" stroke-width="0.5"/><path d="M692.5 124.0V164.3" stroke="#ef5350" stroke-width="0.9"/><path d="M693.2 144.8V168.6" stroke="#26a69a" stroke-width="0.5"/><path d="M693.2 148.2V164.3" stroke="#26a69a" stroke-width="0.9"/><path d="M694.0 145.7V157.1" stroke="#ef5350" stroke-width="0.5"/><path d="M694.0 148.2V155.9" stroke="#ef5350" stroke-width="0.9"/><path d="M694.8 124.3V168.6" stroke="#26a69a" stroke-width="0.5"/><path d="M694.8 141.1V155.9" stroke="#26a69a" stroke-width="0.9"/><path d="M695.5 122.7V143.1" stroke="#26a69a" stroke-width="0.5"/><path d="M695.5 133.9V141.1" stroke="#26a69a" stroke-width="0.9"/><path d="M696.2 126.8V140.0" stroke="#ef5350" stroke-width="0.5"/><path d="M696.2 133.9V139.1" stroke="#ef5350" stroke-width="0.9"/><path d="M697.0 123.7V141.3" stroke="#26a69a" stroke-width="0.5"/><path d="M697.0 124.1V139.1" stroke="#26a69a" stroke-width="0.9"/><path d="M697.8 122.9V147.0" stroke="#ef5350" stroke-width="0.5"/><path d="M697.8 124.1V146.4" stroke="#ef5350" stroke-width="0.9"/><path d="M698.5 132.8V150.6" stroke="#26a69a" stroke-width="0.5"/><path d="M698.5 142.8V146.4" stroke="#26a69a" stroke-width="0.9"/><path d="M699.2 129.3V143.3" stroke="#26a69a" stroke-width="0.5"/><path d="M699.2 130.8V142.8" stroke="#26a69a" stroke-width="0.9"/><path d="M700.0 124.4V156.2" stroke="#ef5350" stroke-width="0.5"/><path d="M700.0 130.8V138.6" stroke="#ef5350" stroke-width="0.9"/><path d="M700.8 126.0V155.9" stroke="#ef5350" stroke-width="0.5"/><path d="M700.8 138.6V143.1" stroke="#ef5350" stroke-width="0.9"/><path d="M701.5 131.8V155.2" stroke="#ef5350" stroke-width="0.5"/><path d="M701.5 143.1V153.6" stroke="#ef5350" stroke-width="0.9"/><path d="M702.2 133.4V166.6" stroke="#26a69a" stroke-width="0.5"/><path d="M702.2 144.3V153.6" stroke="#26a69a" stroke-width="0.9"/><path d="M703.0 143.5V180.3" stroke="#ef5350" stroke-width="0.5"/><path d="M703.0 144.3V174.9" stroke="#ef5350" stroke-width="0.9"/><path d="M703.8 154.0V180.4" stroke="#26a69a" stroke-width="0.5"/><path d="M703.8 154.7V174.9" stroke="#26a69a" stroke-width="0.9"/><path d="M704.5 146.9V166.5" stroke="#ef5350" stroke-width="0.5"/><path d="M704.5 154.7V162.5" stroke="#ef5350" stroke-width="0.9"/><path d="M705.2 153.2V166.2" stroke="#ef5350" stroke-width="0.5"/><path d="M705.2 162.5V165.5" stroke="#ef5350" stroke-width="0.9"/><path d="M706.0 163.9V180.3" stroke="#ef5350" stroke-width="0.5"/><path d="M706.0 165.5V174.9" stroke="#ef5350" stroke-width="0.9"/><path d="M706.8 166.3V179.0" stroke="#26a69a" stroke-width="0.5"/><path d="M706.8 166.9V174.9" stroke="#26a69a" stroke-width="0.9"/><path d="M707.5 154.1V168.6" stroke="#26a69a" stroke-width="0.5"/><path d="M707.5 154.7V166.9" stroke="#26a69a" stroke-width="0.9"/><path d="M708.2 152.4V166.9" stroke="#ef5350" stroke-width="0.5"/><path d="M708.2 154.7V161.2" stroke="#ef5350" stroke-width="0.9"/><path d="M709.0 151.1V169.6" stroke="#26a69a" stroke-width="0.5"/><path d="M709.0 151.8V161.2" stroke="#26a69a" stroke-width="0.9"/><path d="M709.8 140.7V175.6" stroke="#ef5350" stroke-width="0.5"/><path d="M709.8 151.8V174.6" stroke="#ef5350" stroke-width="0.9"/><path d="M710.5 147.6V178.9" stroke="#26a69a" stroke-width="0.5"/><path d="M710.5 169.8V174.6" stroke="#26a69a" stroke-width="0.9"/><path d="M711.2 142.0V178.5" stroke="#26a69a" stroke-width="0.5"/><path d="M711.2 153.4V169.8" stroke="#26a69a" stroke-width="0.9"/><path d="M712.0 142.4V158.5" stroke="#26a69a" stroke-width="0.5"/><path d="M712.0 146.8V153.4" stroke="#26a69a" stroke-width="0.9"/><path d="M712.8 131.8V152.6" stroke="#26a69a" stroke-width="0.5"/><path d="M712.8 137.6V146.8" stroke="#26a69a" stroke-width="0.9"/><path d="M713.5 131.4V156.0" stroke="#ef5350" stroke-width="0.5"/><path d="M713.5 137.6V148.6" stroke="#ef5350" stroke-width="0.9"/><path d="M714.2 135.8V150.4" stroke="#26a69a" stroke-width="0.5"/><path d="M714.2 138.4V148.6" stroke="#26a69a" stroke-width="0.9"/><path d="M715.0 137.6V148.7" stroke="#ef5350" stroke-width="0.5"/><path d="M715.0 138.4V146.6" stroke="#ef5350" stroke-width="0.9"/><path d="M715.8 143.1V147.6" stroke="#ef5350" stroke-width="0.5"/><path d="M715.8 146.6V147.4" stroke="#ef5350" stroke-width="0.9"/><path d="M716.5 143.8V150.2" stroke="#ef5350" stroke-width="0.5"/><path d="M716.5 146.8V149.3" stroke="#ef5350" stroke-width="0.9"/><path d="M717.2 147.0V151.8" stroke="#ef5350" stroke-width="0.5"/><path d="M717.2 149.3V150.1" stroke="#ef5350" stroke-width="0.9"/><path d="M718.0 144.1V151.3" stroke="#26a69a" stroke-width="0.5"/><path d="M718.0 144.6V149.9" stroke="#26a69a" stroke-width="0.9"/><path d="M718.8 135.5V145.8" stroke="#26a69a" stroke-width="0.5"/><path d="M718.8 137.1V144.6" stroke="#26a69a" stroke-width="0.9"/><path d="M719.5 128.4V139.9" stroke="#26a69a" stroke-width="0.5"/><path d="M719.5 134.2V137.1" stroke="#26a69a" stroke-width="0.9"/><path d="M720.2 123.6V135.4" stroke="#26a69a" stroke-width="0.5"/><path d="M720.2 132.2V134.2" stroke="#26a69a" stroke-width="0.9"/><path d="M721.0 128.0V144.5" stroke="#26a69a" stroke-width="0.5"/><path d="M721.0 131.2V132.2" stroke="#26a69a" stroke-width="0.9"/><path d="M721.8 129.8V146.5" stroke="#ef5350" stroke-width="0.5"/><path d="M721.8 131.2V136.9" stroke="#ef5350" stroke-width="0.9"/><path d="M722.5 119.5V141.7" stroke="#26a69a" stroke-width="0.5"/><path d="M722.5 134.2V136.9" stroke="#26a69a" stroke-width="0.9"/><path d="M723.2 118.7V138.0" stroke="#26a69a" stroke-width="0.5"/><path d="M723.2 120.1V134.2" stroke="#26a69a" stroke-width="0.9"/><path d="M724.0 118.7V134.2" stroke="#ef5350" stroke-width="0.5"/><path d="M724.0 120.1V132.4" stroke="#ef5350" stroke-width="0.9"/><path d="M724.8 130.9V137.7" stroke="#ef5350" stroke-width="0.5"/><path d="M724.8 132.4V133.2" stroke="#ef5350" stroke-width="0.9"/><path d="M725.5 126.6V137.7" stroke="#ef5350" stroke-width="0.5"/><path d="M725.5 132.6V133.4" stroke="#ef5350" stroke-width="0.9"/><path d="M726.2 129.7V145.8" stroke="#ef5350" stroke-width="0.5"/><path d="M726.2 133.0V133.9" stroke="#ef5350" stroke-width="0.9"/><path d="M727.0 130.3V140.3" stroke="#ef5350" stroke-width="0.5"/><path d="M727.0 133.9V139.9" stroke="#ef5350" stroke-width="0.9"/><path d="M727.8 134.9V154.7" stroke="#ef5350" stroke-width="0.5"/><path d="M727.8 139.9V146.3" stroke="#ef5350" stroke-width="0.9"/><path d="M728.5 128.1V152.0" stroke="#ef5350" stroke-width="0.5"/><path d="M728.5 136.8V146.3" stroke="#ef5350" stroke-width="0.9"/><path d="M729.2 136.2V154.5" stroke="#ef5350" stroke-width="0.5"/><path d="M729.2 136.8V145.1" stroke="#ef5350" stroke-width="0.9"/></g><path d="M472.8 313.9L557.8 293.6M462.3 355.6L568.4 327.6" stroke="#7ba5ee" stroke-width="1" fill="none"/><path d="M664.8 55.1L675.3 78.6L660.6 103.7" stroke="#6f9cf0" stroke-width="1" fill="none"/><text transform="translate(915.80 103.10) scale(0.960 1)" font-size="6.50" fill="#f03535" stroke="#f03535" stroke-width="0.15" text-anchor="end">1.618(5.1906)</text><text transform="translate(915.80 178.10) scale(0.960 1)" font-size="6.50" fill="#f03535" stroke="#f03535" stroke-width="0.15" text-anchor="end">1.272(4.4915)</text><text transform="translate(915.80 237.10) scale(0.960 1)" font-size="6.50" fill="#f03535" stroke="#f03535" stroke-width="0.15" text-anchor="end">1(3.9419)</text><text transform="translate(915.80 284.10) scale(0.960 1)" font-size="6.50" fill="#f03535" stroke="#f03535" stroke-width="0.15" text-anchor="end">0.786(3.5095)</text><text transform="translate(915.80 321.10) scale(0.960 1)" font-size="6.50" fill="#f03535" stroke="#f03535" stroke-width="0.15" text-anchor="end">0.618(3.1701)</text><text transform="translate(915.80 346.10) scale(0.960 1)" font-size="6.50" fill="#f03535" stroke="#f03535" stroke-width="0.15" text-anchor="end">0.5(2.9317)</text><text transform="translate(915.80 372.10) scale(0.960 1)" font-size="6.50" fill="#f03535" stroke="#f03535" stroke-width="0.15" text-anchor="end">0.382(2.6932)</text><text transform="translate(915.80 404.10) scale(0.960 1)" font-size="6.50" fill="#f03535" stroke="#f03535" stroke-width="0.15" text-anchor="end">0.236(2.3983)</text><text x="369.1" y="348.6" font-size="7" fill="#2f3241" text-anchor="middle" letter-spacing="0.9">i</text><text x="420.9" y="405.0" font-size="7" fill="#2f3241" text-anchor="middle" letter-spacing="0.9">ii</text><text x="489.7" y="295.6" font-size="7" fill="#2f3241" text-anchor="middle" letter-spacing="0.9">iii</text><text x="563.8" y="347.5" font-size="7" fill="#2f3241" text-anchor="middle" letter-spacing="0.9">iv</text><text x="672.3" y="45.4" font-size="7" fill="#2f3241" text-anchor="middle" letter-spacing="0.9">v</text><rect x="11" y="11" width="121" height="11.5" fill="#fff"/><text transform="translate(14.40 21.00) scale(0.918 1)" font-size="8.40" fill="#2f3241" stroke="#2f3241" stroke-width="0.12" text-anchor="start">EOS / Dollar · 1h · BITFINEX</text><circle cx="125.6" cy="17.6" r="4" fill="#fff" stroke="#d3efeb" stroke-width="1.1"/><circle cx="125.6" cy="17.6" r="2.1" fill="#16978a"/><rect x="919.5" y="11" width="28.5" height="437" fill="#fff"/><path d="M919.5 11V449" stroke="#e3e6ec" stroke-width="1"/><path d="M948.5 11V451" stroke="#d3dbee" stroke-width="1"/><path d="M11 433.5H948M11 448.5H948" stroke="#e6e8ee" stroke-width="1"/><path d="M919.5 10.5h2.5" stroke="#c8cbd3" stroke-width="1"/><text transform="translate(933.60 12.87) scale(0.885 1)" font-size="6.90" fill="#2f3241" stroke="#2f3241" stroke-width="0.12" text-anchor="middle">6.0000</text><path d="M919.5 32.5h2.5" stroke="#c8cbd3" stroke-width="1"/><text transform="translate(933.60 34.40) scale(0.885 1)" font-size="6.90" fill="#2f3241" stroke="#2f3241" stroke-width="0.12" text-anchor="middle">5.8000</text><path d="M919.5 53.5h2.5" stroke="#c8cbd3" stroke-width="1"/><text transform="translate(933.60 55.93) scale(0.885 1)" font-size="6.90" fill="#2f3241" stroke="#2f3241" stroke-width="0.12" text-anchor="middle">5.6000</text><path d="M919.5 75.5h2.5" stroke="#c8cbd3" stroke-width="1"/><text transform="translate(933.60 77.45) scale(0.885 1)" font-size="6.90" fill="#2f3241" stroke="#2f3241" stroke-width="0.12" text-anchor="middle">5.4000</text><path d="M919.5 96.5h2.5" stroke="#c8cbd3" stroke-width="1"/><text transform="translate(933.60 98.98) scale(0.885 1)" font-size="6.90" fill="#2f3241" stroke="#2f3241" stroke-width="0.12" text-anchor="middle">5.2000</text><path d="M919.5 118.5h2.5" stroke="#c8cbd3" stroke-width="1"/><text transform="translate(933.60 120.50) scale(0.885 1)" font-size="6.90" fill="#2f3241" stroke="#2f3241" stroke-width="0.12" text-anchor="middle">5.0000</text><path d="M919.5 139.5h2.5" stroke="#c8cbd3" stroke-width="1"/><text transform="translate(933.60 142.03) scale(0.885 1)" font-size="6.90" fill="#2f3241" stroke="#2f3241" stroke-width="0.12" text-anchor="middle">4.8000</text><path d="M919.5 161.5h2.5" stroke="#c8cbd3" stroke-width="1"/><text transform="translate(933.60 163.56) scale(0.885 1)" font-size="6.90" fill="#2f3241" stroke="#2f3241" stroke-width="0.12" text-anchor="middle">4.6000</text><path d="M919.5 182.5h2.5" stroke="#c8cbd3" stroke-width="1"/><text transform="translate(933.60 185.08) scale(0.885 1)" font-size="6.90" fill="#2f3241" stroke="#2f3241" stroke-width="0.12" text-anchor="middle">4.4000</text><path d="M919.5 204.5h2.5" stroke="#c8cbd3" stroke-width="1"/><text transform="translate(933.60 206.61) scale(0.885 1)" font-size="6.90" fill="#2f3241" stroke="#2f3241" stroke-width="0.12" text-anchor="middle">4.2000</text><path d="M919.5 225.5h2.5" stroke="#c8cbd3" stroke-width="1"/><text transform="translate(933.60 228.13) scale(0.885 1)" font-size="6.90" fill="#2f3241" stroke="#2f3241" stroke-width="0.12" text-anchor="middle">4.0000</text><path d="M919.5 247.5h2.5" stroke="#c8cbd3" stroke-width="1"/><text transform="translate(933.60 249.66) scale(0.885 1)" font-size="6.90" fill="#2f3241" stroke="#2f3241" stroke-width="0.12" text-anchor="middle">3.8000</text><path d="M919.5 268.5h2.5" stroke="#c8cbd3" stroke-width="1"/><text transform="translate(933.60 271.19) scale(0.885 1)" font-size="6.90" fill="#2f3241" stroke="#2f3241" stroke-width="0.12" text-anchor="middle">3.6000</text><path d="M919.5 290.5h2.5" stroke="#c8cbd3" stroke-width="1"/><text transform="translate(933.60 292.71) scale(0.885 1)" font-size="6.90" fill="#2f3241" stroke="#2f3241" stroke-width="0.12" text-anchor="middle">3.4000</text><path d="M919.5 311.5h2.5" stroke="#c8cbd3" stroke-width="1"/><text transform="translate(933.60 314.24) scale(0.885 1)" font-size="6.90" fill="#2f3241" stroke="#2f3241" stroke-width="0.12" text-anchor="middle">3.2000</text><path d="M919.5 333.5h2.5" stroke="#c8cbd3" stroke-width="1"/><text transform="translate(933.60 335.76) scale(0.885 1)" font-size="6.90" fill="#2f3241" stroke="#2f3241" stroke-width="0.12" text-anchor="middle">3.0000</text><path d="M919.5 354.5h2.5" stroke="#c8cbd3" stroke-width="1"/><text transform="translate(933.60 357.29) scale(0.885 1)" font-size="6.90" fill="#2f3241" stroke="#2f3241" stroke-width="0.12" text-anchor="middle">2.8000</text><path d="M919.5 376.5h2.5" stroke="#c8cbd3" stroke-width="1"/><text transform="translate(933.60 378.82) scale(0.885 1)" font-size="6.90" fill="#2f3241" stroke="#2f3241" stroke-width="0.12" text-anchor="middle">2.6000</text><path d="M919.5 397.5h2.5" stroke="#c8cbd3" stroke-width="1"/><text transform="translate(933.60 400.34) scale(0.885 1)" font-size="6.90" fill="#2f3241" stroke="#2f3241" stroke-width="0.12" text-anchor="middle">2.4000</text><path d="M919.5 419.5h2.5" stroke="#c8cbd3" stroke-width="1"/><text transform="translate(933.60 421.87) scale(0.885 1)" font-size="6.90" fill="#2f3241" stroke="#2f3241" stroke-width="0.12" text-anchor="middle">2.2000</text><rect x="919" y="0" width="37" height="11" fill="#fff"/><rect x="925.6" y="14.2" width="15" height="8.2" rx="1.5" fill="#fff" stroke="#e0e3eb" stroke-width="0.8"/><text transform="translate(933.40 20.30) scale(0.900 1)" font-size="6.90" fill="#2f3241" text-anchor="middle">USD</text><rect x="919.7" y="145.1" width="27.3" height="9.8" fill="#ef5350"/><text transform="translate(933.60 152.60) scale(0.885 1)" font-size="6.90" fill="#fff" stroke="#fff" stroke-width="0.25" text-anchor="middle">4.7005</text><rect x="925.1" y="156" width="21.9" height="9.7" fill="#ef5350"/><text transform="translate(935.00 163.30) scale(0.885 1)" font-size="6.90" fill="#fff" stroke="#fff" stroke-width="0.25" text-anchor="middle">42:50</text><rect x="919.3" y="227.6" width="27.5" height="9.5" fill="#0000f5"/><text transform="translate(933.60 234.80) scale(0.885 1)" font-size="6.90" fill="#fff" stroke="#fff" stroke-width="0.25" text-anchor="middle">3.9378</text><rect x="919.4" y="421" width="27.4" height="9.7" fill="#0000f5"/><text transform="translate(933.40 428.30) scale(0.885 1)" font-size="6.90" fill="#fff" stroke="#fff" stroke-width="0.25" text-anchor="middle">2.1407</text><path d="M919.5 150.5h2M919.5 232.5h2M919.5 425.5h2" stroke="#fff" stroke-width="0.8"/><text transform="translate(39.00 443.90) scale(0.870 1)" font-size="6.90" fill="#2f3241" text-anchor="middle">2021</text><text transform="translate(81.66 443.90) scale(0.870 1)" font-size="6.90" fill="#2f3241" text-anchor="middle">4</text><text transform="translate(124.32 443.90) scale(0.870 1)" font-size="6.90" fill="#2f3241" text-anchor="middle">7</text><text transform="translate(181.20 443.90) scale(0.870 1)" font-size="6.90" fill="#2f3241" text-anchor="middle">11</text><text transform="translate(223.86 443.90) scale(0.870 1)" font-size="6.90" fill="#2f3241" text-anchor="middle">14</text><text transform="translate(280.74 443.90) scale(0.870 1)" font-size="6.90" fill="#2f3241" text-anchor="middle">18</text><text transform="translate(323.40 443.90) scale(0.870 1)" font-size="6.90" fill="#2f3241" text-anchor="middle">21</text><text transform="translate(380.28 443.90) scale(0.870 1)" font-size="6.90" fill="#2f3241" text-anchor="middle">25</text><text transform="translate(422.94 443.90) scale(0.870 1)" font-size="6.90" fill="#2f3241" text-anchor="middle">28</text><text transform="translate(479.82 443.90) scale(0.870 1)" font-size="6.90" fill="#2f3241" text-anchor="middle">Feb</text><text transform="translate(522.48 443.90) scale(0.870 1)" font-size="6.90" fill="#2f3241" text-anchor="middle">4</text><text transform="translate(579.36 443.90) scale(0.870 1)" font-size="6.90" fill="#2f3241" text-anchor="middle">8</text><text transform="translate(622.02 443.90) scale(0.870 1)" font-size="6.90" fill="#2f3241" text-anchor="middle">11</text><text transform="translate(678.90 443.90) scale(0.870 1)" font-size="6.90" fill="#2f3241" text-anchor="middle">15</text><text transform="translate(721.56 443.90) scale(0.870 1)" font-size="6.90" fill="#2f3241" text-anchor="middle">18</text><text transform="translate(778.44 443.90) scale(0.870 1)" font-size="6.90" fill="#2f3241" text-anchor="middle">22</text><text transform="translate(821.10 443.90) scale(0.870 1)" font-size="6.90" fill="#2f3241" text-anchor="middle">25</text><text transform="translate(877.98 443.90) scale(0.870 1)" font-size="6.90" fill="#2f3241" text-anchor="middle">Mar</text><g transform="translate(933.5 441.3)" fill="none" stroke="#2f3241" stroke-width="0.9"><circle r="2.45"/><path d="M0 -3.9V-2.7M0 2.7V3.9M-3.9 0H-2.7M2.7 0H3.9M-2.75 -2.75L-1.9 -1.9M1.9 1.9L2.75 2.75M-2.75 2.75L-1.9 1.9M1.9 -1.9L2.75 -2.75"/></g><circle cx="22.15" cy="421.7" r="8.2" fill="#fff" stroke="#e2e2ee" stroke-width="0.6"/><g fill="#2196f3"><circle cx="18.1" cy="422.7" r="2.0"/><circle cx="21.5" cy="420.9" r="2.9"/><circle cx="25.0" cy="422.4" r="2.3"/><rect x="18" y="422.6" width="7.2" height="2.1"/></g><path d="M16.9 422.7L20 420.3L22.6 422.6L25.2 421" stroke="#fff" stroke-width="0.9" fill="none"/></svg></body></html>
